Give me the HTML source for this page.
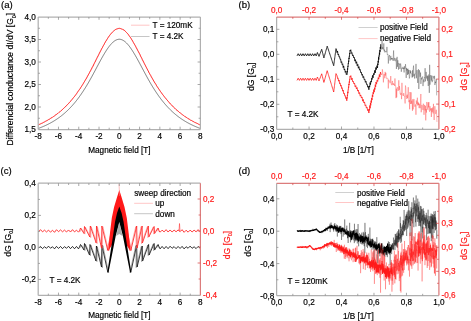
<!DOCTYPE html>
<html><head><meta charset="utf-8"><style>
html,body{margin:0;padding:0;background:#fff;width:471px;height:321px;overflow:hidden}
svg{display:block;filter:blur(0.3px)}
text{font-family:"Liberation Sans", sans-serif}
</style></head><body>
<svg width="471" height="321" viewBox="0 0 471 321">
<rect width="471" height="321" fill="#fff"/>
<text x="1.00" y="7.60" text-anchor="start" fill="#000" stroke="#000" stroke-width="0.18" font-size="9.6">(a)</text>
<path d="M38.20 128.49 L38.61 128.34 L39.01 128.19 L39.42 128.03 L39.83 127.88 L40.23 127.72 L40.64 127.56 L41.05 127.40 L41.45 127.24 L41.86 127.07 L42.27 126.90 L42.67 126.73 L43.08 126.56 L43.48 126.38 L43.89 126.21 L44.30 126.03 L44.70 125.85 L45.11 125.66 L45.52 125.47 L45.92 125.29 L46.33 125.09 L46.74 124.90 L47.14 124.70 L47.55 124.50 L47.96 124.30 L48.36 124.10 L48.77 123.89 L49.18 123.68 L49.58 123.46 L49.99 123.25 L50.40 123.03 L50.80 122.81 L51.21 122.58 L51.62 122.35 L52.02 122.12 L52.43 121.89 L52.83 121.65 L53.24 121.41 L53.65 121.17 L54.05 120.92 L54.46 120.67 L54.87 120.41 L55.27 120.16 L55.68 119.89 L56.09 119.63 L56.49 119.36 L56.90 119.09 L57.31 118.81 L57.71 118.53 L58.12 118.25 L58.53 117.96 L58.93 117.67 L59.34 117.38 L59.75 117.08 L60.15 116.77 L60.56 116.47 L60.96 116.16 L61.37 115.84 L61.78 115.52 L62.18 115.19 L62.59 114.86 L63.00 114.53 L63.40 114.19 L63.81 113.85 L64.22 113.50 L64.62 113.15 L65.03 112.79 L65.44 112.43 L65.84 112.07 L66.25 111.69 L66.66 111.32 L67.06 110.94 L67.47 110.55 L67.88 110.16 L68.28 109.76 L68.69 109.36 L69.10 108.95 L69.50 108.54 L69.91 108.12 L70.31 107.69 L70.72 107.26 L71.13 106.83 L71.53 106.39 L71.94 105.94 L72.35 105.49 L72.75 105.03 L73.16 104.56 L73.57 104.09 L73.97 103.62 L74.38 103.13 L74.79 102.65 L75.19 102.15 L75.60 101.65 L76.01 101.14 L76.41 100.63 L76.82 100.11 L77.23 99.59 L77.63 99.06 L78.04 98.52 L78.45 97.97 L78.85 97.42 L79.26 96.87 L79.66 96.30 L80.07 95.73 L80.48 95.16 L80.88 94.57 L81.29 93.99 L81.70 93.39 L82.10 92.79 L82.51 92.18 L82.92 91.57 L83.32 90.95 L83.73 90.32 L84.14 89.69 L84.54 89.05 L84.95 88.41 L85.36 87.76 L85.76 87.10 L86.17 86.44 L86.58 85.77 L86.98 85.10 L87.39 84.42 L87.79 83.74 L88.20 83.05 L88.61 82.35 L89.01 81.65 L89.42 80.93 L89.83 80.21 L90.23 79.49 L90.64 78.76 L91.05 78.03 L91.45 77.29 L91.86 76.55 L92.27 75.80 L92.67 75.05 L93.08 74.30 L93.49 73.55 L93.89 72.79 L94.30 72.04 L94.71 71.28 L95.11 70.52 L95.52 69.75 L95.93 68.99 L96.33 68.23 L96.74 67.46 L97.14 66.70 L97.55 65.93 L97.96 65.17 L98.36 64.41 L98.77 63.65 L99.18 62.90 L99.58 62.14 L99.99 61.39 L100.40 60.64 L100.80 59.90 L101.21 59.16 L101.62 58.43 L102.02 57.70 L102.43 56.98 L102.84 56.27 L103.24 55.56 L103.65 54.86 L104.06 54.17 L104.46 53.49 L104.87 52.81 L105.28 52.15 L105.68 51.50 L106.09 50.85 L106.49 50.22 L106.90 49.61 L107.31 49.00 L107.71 48.41 L108.12 47.83 L108.53 47.27 L108.93 46.72 L109.34 46.19 L109.75 45.67 L110.15 45.17 L110.56 44.69 L110.97 44.22 L111.37 43.78 L111.78 43.35 L112.19 42.94 L112.59 42.55 L113.00 42.18 L113.41 41.83 L113.81 41.50 L114.22 41.19 L114.63 40.90 L115.03 40.64 L115.44 40.40 L115.84 40.17 L116.25 39.98 L116.66 39.80 L117.06 39.65 L117.47 39.52 L117.88 39.41 L118.28 39.33 L118.69 39.27 L119.10 39.24 L119.50 39.24 L119.91 39.27 L120.32 39.33 L120.72 39.41 L121.13 39.52 L121.54 39.65 L121.94 39.80 L122.35 39.98 L122.76 40.17 L123.16 40.40 L123.57 40.64 L123.97 40.90 L124.38 41.19 L124.79 41.50 L125.19 41.83 L125.60 42.18 L126.01 42.55 L126.41 42.94 L126.82 43.35 L127.23 43.78 L127.63 44.22 L128.04 44.69 L128.45 45.17 L128.85 45.67 L129.26 46.19 L129.67 46.72 L130.07 47.27 L130.48 47.83 L130.89 48.41 L131.29 49.00 L131.70 49.61 L132.11 50.22 L132.51 50.85 L132.92 51.50 L133.32 52.15 L133.73 52.81 L134.14 53.49 L134.54 54.17 L134.95 54.86 L135.36 55.56 L135.76 56.27 L136.17 56.98 L136.58 57.70 L136.98 58.43 L137.39 59.16 L137.80 59.90 L138.20 60.64 L138.61 61.39 L139.02 62.14 L139.42 62.90 L139.83 63.65 L140.24 64.41 L140.64 65.17 L141.05 65.93 L141.46 66.70 L141.86 67.46 L142.27 68.23 L142.67 68.99 L143.08 69.75 L143.49 70.52 L143.89 71.28 L144.30 72.04 L144.71 72.79 L145.11 73.55 L145.52 74.30 L145.93 75.05 L146.33 75.80 L146.74 76.55 L147.15 77.29 L147.55 78.03 L147.96 78.76 L148.37 79.49 L148.77 80.21 L149.18 80.93 L149.59 81.65 L149.99 82.35 L150.40 83.05 L150.81 83.74 L151.21 84.42 L151.62 85.10 L152.02 85.77 L152.43 86.44 L152.84 87.10 L153.24 87.76 L153.65 88.41 L154.06 89.05 L154.46 89.69 L154.87 90.32 L155.28 90.95 L155.68 91.57 L156.09 92.18 L156.50 92.79 L156.90 93.39 L157.31 93.99 L157.72 94.57 L158.12 95.16 L158.53 95.73 L158.94 96.30 L159.34 96.87 L159.75 97.42 L160.15 97.97 L160.56 98.52 L160.97 99.06 L161.37 99.59 L161.78 100.11 L162.19 100.63 L162.59 101.14 L163.00 101.65 L163.41 102.15 L163.81 102.65 L164.22 103.13 L164.63 103.62 L165.03 104.09 L165.44 104.56 L165.85 105.03 L166.25 105.49 L166.66 105.94 L167.07 106.39 L167.47 106.83 L167.88 107.26 L168.29 107.69 L168.69 108.12 L169.10 108.54 L169.50 108.95 L169.91 109.36 L170.32 109.76 L170.72 110.16 L171.13 110.55 L171.54 110.94 L171.94 111.32 L172.35 111.69 L172.76 112.07 L173.16 112.43 L173.57 112.79 L173.98 113.15 L174.38 113.50 L174.79 113.85 L175.20 114.19 L175.60 114.53 L176.01 114.86 L176.42 115.19 L176.82 115.52 L177.23 115.84 L177.64 116.16 L178.04 116.47 L178.45 116.77 L178.85 117.08 L179.26 117.38 L179.67 117.67 L180.07 117.96 L180.48 118.25 L180.89 118.53 L181.29 118.81 L181.70 119.09 L182.11 119.36 L182.51 119.63 L182.92 119.89 L183.33 120.16 L183.73 120.41 L184.14 120.67 L184.55 120.92 L184.95 121.17 L185.36 121.41 L185.77 121.65 L186.17 121.89 L186.58 122.12 L186.98 122.35 L187.39 122.58 L187.80 122.81 L188.20 123.03 L188.61 123.25 L189.02 123.46 L189.42 123.68 L189.83 123.89 L190.24 124.10 L190.64 124.30 L191.05 124.50 L191.46 124.70 L191.86 124.90 L192.27 125.09 L192.68 125.29 L193.08 125.47 L193.49 125.66 L193.90 125.85 L194.30 126.03 L194.71 126.21 L195.12 126.38 L195.52 126.56 L195.93 126.73 L196.33 126.90 L196.74 127.07 L197.15 127.24 L197.55 127.40 L197.96 127.56 L198.37 127.72 L198.77 127.88 L199.18 128.03 L199.59 128.19 L199.99 128.34 L200.40 128.49" fill="none" stroke="#404040" stroke-width="0.7" stroke-opacity="1.0" stroke-linejoin="round"/>
<path d="M38.20 124.98 L38.61 124.83 L39.01 124.60 L39.42 124.37 L39.83 124.22 L40.23 123.99 L40.64 123.88 L41.05 123.79 L41.45 123.45 L41.86 123.25 L42.27 123.14 L42.67 122.92 L43.08 122.70 L43.48 122.41 L43.89 122.28 L44.30 122.12 L44.70 121.75 L45.11 121.60 L45.52 121.27 L45.92 121.10 L46.33 120.83 L46.74 120.73 L47.14 120.42 L47.55 120.31 L47.96 120.07 L48.36 119.80 L48.77 119.38 L49.18 119.29 L49.58 119.08 L49.99 118.85 L50.40 118.46 L50.80 118.29 L51.21 117.99 L51.62 117.75 L52.02 117.63 L52.43 117.21 L52.83 117.00 L53.24 116.80 L53.65 116.41 L54.05 116.16 L54.46 115.90 L54.87 115.60 L55.27 115.21 L55.68 115.02 L56.09 114.82 L56.49 114.28 L56.90 114.17 L57.31 113.80 L57.71 113.42 L58.12 113.32 L58.53 112.90 L58.93 112.41 L59.34 112.18 L59.75 111.89 L60.15 111.49 L60.56 111.21 L60.96 110.81 L61.37 110.51 L61.78 110.22 L62.18 109.69 L62.59 109.39 L63.00 108.97 L63.40 108.64 L63.81 108.16 L64.22 107.82 L64.62 107.46 L65.03 107.16 L65.44 106.78 L65.84 106.18 L66.25 105.81 L66.66 105.51 L67.06 104.88 L67.47 104.58 L67.88 104.18 L68.28 103.85 L68.69 103.37 L69.10 102.84 L69.50 102.39 L69.91 101.94 L70.31 101.62 L70.72 100.99 L71.13 100.53 L71.53 100.10 L71.94 99.58 L72.35 99.08 L72.75 98.51 L73.16 98.10 L73.57 97.56 L73.97 97.17 L74.38 96.61 L74.79 96.03 L75.19 95.55 L75.60 94.93 L76.01 94.49 L76.41 93.86 L76.82 93.35 L77.23 92.63 L77.63 92.19 L78.04 91.45 L78.45 90.84 L78.85 90.39 L79.26 89.74 L79.66 89.23 L80.07 88.78 L80.48 87.92 L80.88 87.32 L81.29 86.75 L81.70 86.14 L82.10 85.45 L82.51 84.80 L82.92 84.21 L83.32 83.54 L83.73 82.75 L84.14 82.15 L84.54 81.48 L84.95 80.71 L85.36 80.12 L85.76 79.33 L86.17 78.78 L86.58 78.00 L86.98 77.28 L87.39 76.51 L87.79 75.82 L88.20 74.94 L88.61 74.27 L89.01 73.64 L89.42 72.68 L89.83 72.16 L90.23 71.18 L90.64 70.61 L91.05 69.70 L91.45 69.05 L91.86 68.21 L92.27 67.29 L92.67 66.72 L93.08 65.94 L93.49 65.02 L93.89 64.20 L94.30 63.41 L94.71 62.54 L95.11 61.89 L95.52 60.95 L95.93 60.18 L96.33 59.31 L96.74 58.52 L97.14 57.65 L97.55 57.05 L97.96 56.12 L98.36 55.40 L98.77 54.52 L99.18 53.66 L99.58 52.89 L99.99 52.07 L100.40 51.32 L100.80 50.50 L101.21 49.72 L101.62 48.85 L102.02 48.12 L102.43 47.55 L102.84 46.60 L103.24 45.82 L103.65 45.18 L104.06 44.53 L104.46 43.57 L104.87 42.95 L105.28 42.21 L105.68 41.42 L106.09 40.94 L106.49 40.20 L106.90 39.55 L107.31 38.83 L107.71 38.30 L108.12 37.60 L108.53 37.03 L108.93 36.36 L109.34 35.78 L109.75 35.43 L110.15 34.75 L110.56 34.29 L110.97 33.77 L111.37 33.25 L111.78 32.79 L112.19 32.44 L112.59 31.94 L113.00 31.56 L113.41 31.20 L113.81 30.93 L114.22 30.56 L114.63 30.23 L115.03 29.87 L115.44 29.54 L115.84 29.49 L116.25 29.28 L116.66 29.00 L117.06 28.89 L117.47 28.77 L117.88 28.66 L118.28 28.58 L118.69 28.41 L119.10 28.53 L119.50 28.31 L119.91 28.52 L120.32 28.55 L120.72 28.67 L121.13 28.86 L121.54 28.97 L121.94 28.92 L122.35 29.07 L122.76 29.48 L123.16 29.57 L123.57 29.91 L123.97 30.27 L124.38 30.38 L124.79 30.67 L125.19 31.21 L125.60 31.57 L126.01 31.95 L126.41 32.39 L126.82 32.76 L127.23 33.17 L127.63 33.76 L128.04 34.19 L128.45 34.66 L128.85 35.36 L129.26 35.87 L129.67 36.48 L130.07 36.96 L130.48 37.59 L130.89 38.18 L131.29 38.82 L131.70 39.56 L132.11 40.14 L132.51 40.91 L132.92 41.59 L133.32 42.42 L133.73 42.86 L134.14 43.76 L134.54 44.41 L134.95 45.16 L135.36 45.79 L135.76 46.62 L136.17 47.48 L136.58 48.18 L136.98 48.97 L137.39 49.72 L137.80 50.62 L138.20 51.32 L138.61 51.94 L139.02 52.86 L139.42 53.56 L139.83 54.26 L140.24 55.28 L140.64 56.24 L141.05 56.95 L141.46 57.66 L141.86 58.49 L142.27 59.47 L142.67 60.20 L143.08 61.00 L143.49 61.80 L143.89 62.62 L144.30 63.48 L144.71 64.27 L145.11 65.04 L145.52 65.74 L145.93 66.66 L146.33 67.36 L146.74 68.29 L147.15 68.89 L147.55 69.76 L147.96 70.55 L148.37 71.21 L148.77 72.23 L149.18 72.97 L149.59 73.57 L149.99 74.42 L150.40 75.13 L150.81 75.62 L151.21 76.57 L151.62 77.27 L152.02 78.00 L152.43 78.61 L152.84 79.38 L153.24 80.09 L153.65 80.89 L154.06 81.50 L154.46 82.16 L154.87 82.95 L155.28 83.45 L155.68 84.13 L156.09 84.67 L156.50 85.59 L156.90 86.18 L157.31 86.81 L157.72 87.42 L158.12 88.00 L158.53 88.62 L158.94 89.19 L159.34 89.80 L159.75 90.42 L160.15 91.12 L160.56 91.63 L160.97 92.16 L161.37 92.69 L161.78 93.25 L162.19 93.99 L162.59 94.45 L163.00 94.96 L163.41 95.47 L163.81 95.94 L164.22 96.55 L164.63 97.15 L165.03 97.56 L165.44 98.08 L165.85 98.58 L166.25 99.11 L166.66 99.46 L167.07 100.06 L167.47 100.49 L167.88 101.10 L168.29 101.43 L168.69 102.00 L169.10 102.54 L169.50 102.84 L169.91 103.26 L170.32 103.77 L170.72 104.19 L171.13 104.54 L171.54 105.08 L171.94 105.62 L172.35 105.85 L172.76 106.27 L173.16 106.60 L173.57 107.11 L173.98 107.38 L174.38 107.78 L174.79 108.35 L175.20 108.56 L175.60 109.09 L176.01 109.50 L176.42 109.76 L176.82 110.15 L177.23 110.62 L177.64 110.80 L178.04 111.11 L178.45 111.39 L178.85 111.85 L179.26 112.30 L179.67 112.58 L180.07 112.76 L180.48 113.09 L180.89 113.44 L181.29 113.81 L181.70 114.08 L182.11 114.43 L182.51 114.74 L182.92 114.99 L183.33 115.30 L183.73 115.62 L184.14 115.88 L184.55 116.21 L184.95 116.60 L185.36 116.78 L185.77 117.01 L186.17 117.14 L186.58 117.58 L186.98 117.66 L187.39 117.96 L187.80 118.40 L188.20 118.64 L188.61 118.83 L189.02 118.95 L189.42 119.30 L189.83 119.52 L190.24 119.87 L190.64 120.24 L191.05 120.31 L191.46 120.46 L191.86 120.66 L192.27 120.97 L192.68 121.19 L193.08 121.33 L193.49 121.65 L193.90 121.76 L194.30 122.16 L194.71 122.36 L195.12 122.57 L195.52 122.65 L195.93 122.94 L196.33 123.09 L196.74 123.26 L197.15 123.46 L197.55 123.58 L197.96 123.76 L198.37 124.13 L198.77 124.24 L199.18 124.46 L199.59 124.70 L199.99 124.66 L200.40 124.92" fill="none" stroke="#ff0000" stroke-width="0.95" stroke-opacity="1.0" stroke-linejoin="round"/>
<line x1="38.20" y1="129.50" x2="200.40" y2="129.50" stroke="#b0b0b0" stroke-width="1.25" stroke-opacity="1.0"/>
<line x1="38.20" y1="17.00" x2="38.20" y2="129.50" stroke="#b0b0b0" stroke-width="1.25" stroke-opacity="1.0"/>
<line x1="38.20" y1="17.00" x2="200.40" y2="17.00" stroke="#b0b0b0" stroke-width="1.25" stroke-opacity="1.0"/>
<line x1="200.40" y1="17.00" x2="200.40" y2="129.50" stroke="#b0b0b0" stroke-width="1.25" stroke-opacity="1.0"/>
<line x1="48.34" y1="129.50" x2="48.34" y2="127.70" stroke="#8c8c8c" stroke-width="0.75" stroke-opacity="1.0"/>
<line x1="58.48" y1="129.50" x2="58.48" y2="126.70" stroke="#8c8c8c" stroke-width="0.75" stroke-opacity="1.0"/>
<line x1="68.61" y1="129.50" x2="68.61" y2="127.70" stroke="#8c8c8c" stroke-width="0.75" stroke-opacity="1.0"/>
<line x1="78.75" y1="129.50" x2="78.75" y2="126.70" stroke="#8c8c8c" stroke-width="0.75" stroke-opacity="1.0"/>
<line x1="88.89" y1="129.50" x2="88.89" y2="127.70" stroke="#8c8c8c" stroke-width="0.75" stroke-opacity="1.0"/>
<line x1="99.03" y1="129.50" x2="99.03" y2="126.70" stroke="#8c8c8c" stroke-width="0.75" stroke-opacity="1.0"/>
<line x1="109.16" y1="129.50" x2="109.16" y2="127.70" stroke="#8c8c8c" stroke-width="0.75" stroke-opacity="1.0"/>
<line x1="119.30" y1="129.50" x2="119.30" y2="126.70" stroke="#8c8c8c" stroke-width="0.75" stroke-opacity="1.0"/>
<line x1="129.44" y1="129.50" x2="129.44" y2="127.70" stroke="#8c8c8c" stroke-width="0.75" stroke-opacity="1.0"/>
<line x1="139.57" y1="129.50" x2="139.57" y2="126.70" stroke="#8c8c8c" stroke-width="0.75" stroke-opacity="1.0"/>
<line x1="149.71" y1="129.50" x2="149.71" y2="127.70" stroke="#8c8c8c" stroke-width="0.75" stroke-opacity="1.0"/>
<line x1="159.85" y1="129.50" x2="159.85" y2="126.70" stroke="#8c8c8c" stroke-width="0.75" stroke-opacity="1.0"/>
<line x1="169.99" y1="129.50" x2="169.99" y2="127.70" stroke="#8c8c8c" stroke-width="0.75" stroke-opacity="1.0"/>
<line x1="180.12" y1="129.50" x2="180.12" y2="126.70" stroke="#8c8c8c" stroke-width="0.75" stroke-opacity="1.0"/>
<line x1="190.26" y1="129.50" x2="190.26" y2="127.70" stroke="#8c8c8c" stroke-width="0.75" stroke-opacity="1.0"/>
<line x1="48.34" y1="17.00" x2="48.34" y2="18.80" stroke="#8c8c8c" stroke-width="0.75" stroke-opacity="1.0"/>
<line x1="58.48" y1="17.00" x2="58.48" y2="19.80" stroke="#8c8c8c" stroke-width="0.75" stroke-opacity="1.0"/>
<line x1="68.61" y1="17.00" x2="68.61" y2="18.80" stroke="#8c8c8c" stroke-width="0.75" stroke-opacity="1.0"/>
<line x1="78.75" y1="17.00" x2="78.75" y2="19.80" stroke="#8c8c8c" stroke-width="0.75" stroke-opacity="1.0"/>
<line x1="88.89" y1="17.00" x2="88.89" y2="18.80" stroke="#8c8c8c" stroke-width="0.75" stroke-opacity="1.0"/>
<line x1="99.03" y1="17.00" x2="99.03" y2="19.80" stroke="#8c8c8c" stroke-width="0.75" stroke-opacity="1.0"/>
<line x1="109.16" y1="17.00" x2="109.16" y2="18.80" stroke="#8c8c8c" stroke-width="0.75" stroke-opacity="1.0"/>
<line x1="119.30" y1="17.00" x2="119.30" y2="19.80" stroke="#8c8c8c" stroke-width="0.75" stroke-opacity="1.0"/>
<line x1="129.44" y1="17.00" x2="129.44" y2="18.80" stroke="#8c8c8c" stroke-width="0.75" stroke-opacity="1.0"/>
<line x1="139.57" y1="17.00" x2="139.57" y2="19.80" stroke="#8c8c8c" stroke-width="0.75" stroke-opacity="1.0"/>
<line x1="149.71" y1="17.00" x2="149.71" y2="18.80" stroke="#8c8c8c" stroke-width="0.75" stroke-opacity="1.0"/>
<line x1="159.85" y1="17.00" x2="159.85" y2="19.80" stroke="#8c8c8c" stroke-width="0.75" stroke-opacity="1.0"/>
<line x1="169.99" y1="17.00" x2="169.99" y2="18.80" stroke="#8c8c8c" stroke-width="0.75" stroke-opacity="1.0"/>
<line x1="180.12" y1="17.00" x2="180.12" y2="19.80" stroke="#8c8c8c" stroke-width="0.75" stroke-opacity="1.0"/>
<line x1="190.26" y1="17.00" x2="190.26" y2="18.80" stroke="#8c8c8c" stroke-width="0.75" stroke-opacity="1.0"/>
<line x1="38.20" y1="107.00" x2="41.00" y2="107.00" stroke="#8c8c8c" stroke-width="0.75" stroke-opacity="1.0"/>
<line x1="38.20" y1="84.50" x2="41.00" y2="84.50" stroke="#8c8c8c" stroke-width="0.75" stroke-opacity="1.0"/>
<line x1="38.20" y1="62.00" x2="41.00" y2="62.00" stroke="#8c8c8c" stroke-width="0.75" stroke-opacity="1.0"/>
<line x1="38.20" y1="39.50" x2="41.00" y2="39.50" stroke="#8c8c8c" stroke-width="0.75" stroke-opacity="1.0"/>
<line x1="38.20" y1="118.25" x2="40.00" y2="118.25" stroke="#8c8c8c" stroke-width="0.75" stroke-opacity="1.0"/>
<line x1="38.20" y1="95.75" x2="40.00" y2="95.75" stroke="#8c8c8c" stroke-width="0.75" stroke-opacity="1.0"/>
<line x1="38.20" y1="73.25" x2="40.00" y2="73.25" stroke="#8c8c8c" stroke-width="0.75" stroke-opacity="1.0"/>
<line x1="38.20" y1="50.75" x2="40.00" y2="50.75" stroke="#8c8c8c" stroke-width="0.75" stroke-opacity="1.0"/>
<line x1="38.20" y1="28.25" x2="40.00" y2="28.25" stroke="#8c8c8c" stroke-width="0.75" stroke-opacity="1.0"/>
<line x1="200.40" y1="107.00" x2="197.60" y2="107.00" stroke="#8c8c8c" stroke-width="0.75" stroke-opacity="1.0"/>
<line x1="200.40" y1="84.50" x2="197.60" y2="84.50" stroke="#8c8c8c" stroke-width="0.75" stroke-opacity="1.0"/>
<line x1="200.40" y1="62.00" x2="197.60" y2="62.00" stroke="#8c8c8c" stroke-width="0.75" stroke-opacity="1.0"/>
<line x1="200.40" y1="39.50" x2="197.60" y2="39.50" stroke="#8c8c8c" stroke-width="0.75" stroke-opacity="1.0"/>
<line x1="200.40" y1="118.25" x2="198.60" y2="118.25" stroke="#8c8c8c" stroke-width="0.75" stroke-opacity="1.0"/>
<line x1="200.40" y1="95.75" x2="198.60" y2="95.75" stroke="#8c8c8c" stroke-width="0.75" stroke-opacity="1.0"/>
<line x1="200.40" y1="73.25" x2="198.60" y2="73.25" stroke="#8c8c8c" stroke-width="0.75" stroke-opacity="1.0"/>
<line x1="200.40" y1="50.75" x2="198.60" y2="50.75" stroke="#8c8c8c" stroke-width="0.75" stroke-opacity="1.0"/>
<line x1="200.40" y1="28.25" x2="198.60" y2="28.25" stroke="#8c8c8c" stroke-width="0.75" stroke-opacity="1.0"/>
<text x="38.20" y="139.00" text-anchor="middle" fill="#000" stroke="#000" stroke-width="0.18" font-size="8.2">-8</text>
<text x="58.48" y="139.00" text-anchor="middle" fill="#000" stroke="#000" stroke-width="0.18" font-size="8.2">-6</text>
<text x="78.75" y="139.00" text-anchor="middle" fill="#000" stroke="#000" stroke-width="0.18" font-size="8.2">-4</text>
<text x="99.03" y="139.00" text-anchor="middle" fill="#000" stroke="#000" stroke-width="0.18" font-size="8.2">-2</text>
<text x="119.30" y="139.00" text-anchor="middle" fill="#000" stroke="#000" stroke-width="0.18" font-size="8.2">0</text>
<text x="139.57" y="139.00" text-anchor="middle" fill="#000" stroke="#000" stroke-width="0.18" font-size="8.2">2</text>
<text x="159.85" y="139.00" text-anchor="middle" fill="#000" stroke="#000" stroke-width="0.18" font-size="8.2">4</text>
<text x="180.12" y="139.00" text-anchor="middle" fill="#000" stroke="#000" stroke-width="0.18" font-size="8.2">6</text>
<text x="200.40" y="139.00" text-anchor="middle" fill="#000" stroke="#000" stroke-width="0.18" font-size="8.2">8</text>
<text x="35.80" y="132.40" text-anchor="end" fill="#000" stroke="#000" stroke-width="0.18" font-size="8.2">1,5</text>
<text x="35.80" y="109.90" text-anchor="end" fill="#000" stroke="#000" stroke-width="0.18" font-size="8.2">2,0</text>
<text x="35.80" y="87.40" text-anchor="end" fill="#000" stroke="#000" stroke-width="0.18" font-size="8.2">2,5</text>
<text x="35.80" y="64.90" text-anchor="end" fill="#000" stroke="#000" stroke-width="0.18" font-size="8.2">3,0</text>
<text x="35.80" y="42.40" text-anchor="end" fill="#000" stroke="#000" stroke-width="0.18" font-size="8.2">3,5</text>
<text x="35.80" y="19.90" text-anchor="end" fill="#000" stroke="#000" stroke-width="0.18" font-size="8.2">4,0</text>
<text x="119.40" y="153.20" text-anchor="middle" fill="#000" stroke="#000" stroke-width="0.18" font-size="8.2">Magnetic field [T]</text>
<text x="13.40" y="79.10" text-anchor="middle" fill="#000" stroke="#000" stroke-width="0.18" font-size="8.55" transform="rotate(-90 13.4 79.1)">Differencial conductance dI/dV [G<tspan font-size="5.5" dy="2.3">0</tspan><tspan dy="-2.3">]</tspan></text>
<line x1="131.00" y1="25.20" x2="149.50" y2="25.20" stroke="#ffa0a0" stroke-width="0.6" stroke-opacity="1.0"/>
<text x="152.50" y="28.00" text-anchor="start" fill="#000" stroke="#000" stroke-width="0.18" font-size="8.2">T = 120mK</text>
<line x1="131.00" y1="36.50" x2="149.50" y2="36.50" stroke="#a0a0a0" stroke-width="0.6" stroke-opacity="1.0"/>
<text x="152.50" y="39.30" text-anchor="start" fill="#000" stroke="#000" stroke-width="0.18" font-size="8.2">T = 4.2K</text>
<text x="238.50" y="7.60" text-anchor="start" fill="#000" stroke="#000" stroke-width="0.18" font-size="9.6">(b)</text>
<path d="M297.00 55.90 L298.20 53.70 L299.40 55.90 L300.60 53.70 L301.80 55.90 L303.00 53.70 L304.20 55.90 L305.40 53.70 L306.60 55.90 L307.80 53.70 L309.00 55.90 L310.20 53.70 L311.40 55.90 L312.60 53.70 L313.80 55.90 L315.00 53.70 L316.20 55.90 L316.80 54.20 L317.40 52.50 L317.93 53.80 L318.47 55.10 L319.00 56.40 L319.54 54.98 L320.08 53.56 L320.62 52.14 L321.16 50.72 L321.70 49.30 L322.07 50.73 L322.43 52.17 L322.80 53.60 L323.17 55.03 L323.53 56.47 L323.90 57.90 L324.27 56.60 L324.63 55.30 L325.00 54.00 L325.37 52.70 L325.73 51.40 L326.10 50.10 L326.47 48.80 L326.83 47.50 L327.20 46.20 L327.63 47.50 L328.07 48.80 L328.50 50.10 L328.93 51.40 L329.37 52.70 L329.80 54.00 L330.23 55.30 L330.67 56.60 L331.10 57.90 L331.53 59.20 L331.97 60.50 L332.40 61.80 L332.83 63.10 L333.27 64.40 L333.70 65.70 L333.88 64.38 L334.05 63.07 L334.23 61.75 L334.41 60.44 L334.58 59.12 L334.76 57.81 L334.94 56.49 L335.12 55.18 L335.29 53.86 L335.47 52.55 L335.65 51.23 L335.82 49.92 L336.00 48.60 L336.51 49.86 L337.03 52.65 L337.54 51.01 L338.06 55.00 L338.57 54.19 L339.09 57.13 L339.60 56.67 L340.11 59.48 L340.63 59.07 L341.14 62.60 L341.66 61.66 L342.17 64.61 L342.69 63.84 L343.20 67.62 L343.71 65.93 L344.23 70.01 L344.74 69.13 L345.26 72.37 L345.77 71.19 L346.29 74.44 L346.80 73.73 L346.98 74.67 L347.16 71.18 L347.34 72.31 L347.52 68.48 L347.69 69.55 L347.87 65.95 L348.05 66.62 L348.23 63.37 L348.41 63.92 L348.59 60.75 L348.77 61.66 L348.95 57.86 L349.13 58.90 L349.31 55.91 L349.48 56.39 L349.66 53.11 L349.84 53.96 L350.02 50.31 L350.20 51.00 L350.78 49.73 L351.37 53.41 L351.95 52.64 L352.54 55.78 L353.12 54.93 L353.71 57.95 L354.29 57.27 L354.88 61.11 L355.46 59.67 L356.04 63.36 L356.63 61.72 L357.21 65.85 L357.80 64.31 L358.38 68.23 L358.97 66.65 L359.55 70.13 L360.13 69.36 L360.72 72.62 L361.30 71.97 L361.89 75.23 L362.47 74.33 L363.06 77.68 L363.64 76.49 L364.22 79.62 L364.81 79.03 L365.39 82.29 L365.98 81.19 L366.56 84.42 L367.15 84.09 L367.73 87.21 L368.32 86.28 L368.90 89.76 L369.30 85.90 L369.70 87.09 L370.10 82.59 L370.50 84.60 L370.90 81.03 L371.30 82.09 L371.70 78.23 L372.10 79.46 L372.50 75.42 L373.06 77.86 L373.61 73.50 L374.17 74.76 L374.72 70.37 L375.28 72.90 L375.83 67.51 L376.39 69.53 L376.94 65.65 L377.50 68.01 L377.71 63.70 L377.93 64.97 L378.14 60.88 L378.35 62.53 L378.57 57.25 L378.78 59.58 L378.99 55.76 L379.21 56.31 L379.42 52.58 L379.63 54.63 L379.85 50.14 L380.06 51.74 L380.27 47.26 L380.49 48.57 L380.70 44.21" fill="none" stroke="#000" stroke-width="0.8" stroke-opacity="1.0" stroke-linejoin="round"/>
<path d="M380.70 44.21 L381.00 45.74 L381.35 46.97 L381.70 49.54 L382.05 39.56 L382.40 48.89 L382.75 47.27 L383.10 49.51 L383.45 49.40 L383.80 43.41 L384.15 51.18 L384.50 49.65 L384.85 52.37 L385.20 50.91 L385.55 51.41 L385.90 52.09 L386.25 51.90 L386.60 52.09 L386.95 46.91 L387.30 54.72 L387.65 54.31 L388.00 54.24 L388.35 63.52 L388.70 56.58 L389.05 56.54 L389.40 54.99 L389.75 58.51 L390.10 60.63 L390.45 58.14 L390.80 55.86 L391.15 59.75 L391.50 57.98 L391.85 59.09 L392.20 58.02 L392.55 58.83 L392.90 60.63 L393.25 57.05 L393.60 50.49 L393.95 60.74 L394.30 57.86 L394.65 58.31 L395.00 60.89 L395.35 61.12 L395.70 60.54 L396.05 58.29 L396.40 68.94 L396.75 61.53 L397.10 56.83 L397.45 66.82 L397.80 60.25 L398.15 64.36 L398.50 69.61 L398.85 62.99 L399.20 64.64 L399.55 64.18 L399.90 68.93 L400.25 65.92 L400.60 63.51 L400.95 65.92 L401.30 71.77 L401.65 68.30 L402.00 67.78 L402.35 68.33 L402.70 68.78 L403.05 66.84 L403.40 69.14 L403.75 68.08 L404.10 72.46 L404.45 66.29 L404.80 68.87 L405.15 68.14 L405.50 64.18 L405.85 68.92 L406.20 77.93 L406.55 67.95 L406.90 70.47 L407.25 69.04 L407.60 74.97 L407.95 68.70 L408.30 74.08 L408.65 70.06 L409.00 72.96 L409.35 78.46 L409.70 76.80 L410.05 70.00 L410.40 73.21 L410.75 71.18 L411.10 73.79 L411.45 73.77 L411.80 74.23 L412.15 77.60 L412.50 70.29 L412.85 76.98 L413.20 68.81 L413.55 65.61 L413.90 75.97 L414.25 73.80 L414.60 78.51 L414.95 75.36 L415.30 74.38 L415.65 72.79 L416.00 63.92 L416.35 78.25 L416.70 74.85 L417.05 70.12 L417.40 77.68 L417.75 82.94 L418.10 74.92 L418.45 69.26 L418.80 88.98 L419.15 79.52 L419.50 70.25 L419.85 74.67 L420.20 76.83 L420.55 72.59 L420.90 83.89 L421.25 77.65 L421.60 79.38 L421.95 79.18 L422.30 77.07 L422.65 76.51 L423.00 86.11 L423.35 80.60 L423.70 79.44 L424.05 82.21 L424.40 77.44 L424.75 78.16 L425.10 68.20 L425.45 81.36 L425.80 78.30 L426.15 71.90 L426.50 77.38 L426.85 78.52 L427.20 75.51 L427.55 80.75 L427.90 76.10 L428.25 85.98 L428.60 74.57 L428.95 75.84 L429.30 92.84 L429.65 64.80 L430.00 84.69 L430.35 75.82 L430.70 75.20 L431.05 77.10 L431.40 80.65 L431.75 75.53 L432.10 82.20 L432.45 80.63 L432.80 80.91 L433.15 75.96 L433.50 77.41 L433.85 77.52 L434.20 78.66 L434.55 75.85 L434.90 85.05 L435.25 81.66 L435.60 83.09 L435.95 81.99 L436.30 79.12 L436.65 95.39" fill="none" stroke="#333" stroke-width="0.35" stroke-opacity="1.0" stroke-linejoin="round"/>
<path d="M297.00 80.40 L298.20 78.20 L299.40 80.40 L300.60 78.20 L301.80 80.40 L303.00 78.20 L304.20 80.40 L305.40 78.20 L306.60 80.40 L307.80 78.20 L309.00 80.40 L310.20 78.20 L311.40 80.40 L312.60 78.20 L313.80 80.40 L315.00 78.20 L316.20 80.40 L316.80 78.70 L317.40 77.00 L317.93 78.30 L318.47 79.60 L319.00 80.90 L319.54 79.48 L320.08 78.06 L320.62 76.64 L321.16 75.22 L321.70 73.80 L322.07 75.23 L322.43 76.67 L322.80 78.10 L323.17 79.53 L323.53 80.97 L323.90 82.40 L324.27 81.10 L324.63 79.80 L325.00 78.50 L325.37 77.20 L325.73 75.90 L326.10 74.60 L326.47 73.30 L326.83 72.00 L327.20 70.70 L327.58 71.95 L327.96 73.21 L328.35 74.46 L328.73 75.71 L329.11 76.96 L329.49 78.22 L329.88 79.47 L330.26 80.72 L330.64 81.98 L331.02 83.23 L331.41 84.48 L331.79 85.74 L332.17 86.99 L332.55 88.24 L332.94 89.49 L333.32 90.75 L333.70 92.00 L333.86 90.69 L334.03 89.37 L334.19 88.06 L334.36 86.74 L334.52 85.43 L334.69 84.11 L334.85 82.80 L335.01 81.49 L335.18 80.17 L335.34 78.86 L335.51 77.54 L335.67 76.23 L335.84 74.91 L336.00 73.60 L336.51 74.86 L337.03 75.25 L337.54 78.48 L338.06 77.91 L338.57 81.17 L339.09 80.01 L339.60 83.69 L340.11 82.93 L340.63 86.15 L341.14 85.18 L341.66 88.53 L342.17 87.73 L342.69 91.17 L343.20 90.03 L343.71 93.67 L344.23 93.01 L344.74 95.83 L345.26 95.51 L345.77 98.48 L346.29 97.66 L346.80 100.75 L346.99 97.40 L347.18 98.42 L347.37 94.88 L347.56 95.84 L347.74 91.80 L347.93 93.15 L348.12 89.89 L348.31 90.07 L348.50 86.67 L348.69 87.55 L348.88 83.93 L349.07 85.05 L349.26 81.60 L349.44 82.58 L349.63 79.10 L349.82 79.49 L350.01 76.32 L350.20 76.93 L350.82 75.61 L351.45 79.66 L352.07 78.06 L352.69 81.87 L353.32 81.18 L353.94 83.93 L354.56 83.10 L355.19 86.86 L355.81 85.60 L356.43 88.92 L357.06 87.53 L357.68 91.10 L358.30 90.00 L358.93 93.70 L359.55 92.57 L360.17 96.11 L360.80 94.98 L361.42 98.01 L362.04 96.98 L362.67 101.17 L363.29 99.41 L363.91 102.98 L364.54 101.97 L365.16 105.73 L365.78 104.86 L366.41 108.12 L367.03 107.21 L367.65 110.63 L368.28 109.44 L368.90 113.03 L369.21 108.96 L369.52 110.37 L369.83 105.50 L370.14 108.24 L370.45 102.96 L370.76 105.35 L371.07 100.66 L371.38 102.55 L371.69 97.97 L372.00 100.07 L372.36 94.85 L372.73 96.83 L373.09 92.29 L373.45 93.89 L373.82 89.57 L374.18 92.14 L374.55 87.78 L374.91 89.53 L375.27 84.66 L375.64 86.96 L376.00 81.98 L376.56 84.15 L377.11 80.14 L377.67 81.53 L378.22 77.63 L378.78 79.11 L379.33 74.48 L379.89 77.06 L380.44 72.08 L381.00 74.39" fill="none" stroke="#ff1a1a" stroke-width="0.8" stroke-opacity="1.0" stroke-linejoin="round"/>
<path d="M381.00 74.39 L382.00 74.66 L382.35 69.34 L382.70 71.76 L383.05 75.79 L383.40 82.39 L383.75 75.23 L384.10 73.95 L384.45 74.76 L384.80 78.22 L385.15 71.86 L385.50 75.52 L385.85 72.82 L386.20 76.19 L386.55 78.69 L386.90 78.76 L387.25 78.53 L387.60 78.27 L387.95 78.38 L388.30 88.44 L388.65 79.68 L389.00 81.38 L389.35 80.80 L389.70 81.61 L390.05 83.22 L390.40 81.76 L390.75 76.07 L391.10 82.09 L391.45 85.05 L391.80 84.71 L392.15 81.76 L392.50 80.94 L392.85 85.13 L393.20 83.13 L393.55 84.72 L393.90 84.14 L394.25 84.25 L394.60 85.81 L394.95 78.43 L395.30 86.00 L395.65 85.80 L396.00 98.10 L396.35 88.66 L396.70 97.35 L397.05 87.22 L397.40 87.45 L397.75 89.02 L398.10 90.96 L398.45 89.81 L398.80 80.25 L399.15 89.96 L399.50 86.17 L399.85 90.11 L400.20 93.68 L400.55 94.76 L400.90 92.88 L401.25 93.31 L401.60 99.17 L401.95 82.83 L402.30 94.65 L402.65 94.94 L403.00 94.79 L403.35 95.88 L403.70 93.12 L404.05 95.57 L404.40 96.28 L404.75 96.20 L405.10 103.48 L405.45 85.52 L405.80 87.44 L406.15 96.33 L406.50 95.83 L406.85 98.98 L407.20 94.67 L407.55 98.06 L407.90 93.57 L408.25 87.19 L408.60 97.91 L408.95 102.13 L409.30 100.18 L409.65 109.31 L410.00 92.03 L410.35 102.35 L410.70 104.00 L411.05 92.30 L411.40 103.72 L411.75 100.69 L412.10 103.68 L412.45 110.79 L412.80 99.18 L413.15 109.39 L413.50 100.69 L413.85 99.14 L414.20 99.41 L414.55 106.10 L414.90 106.79 L415.25 105.62 L415.60 104.48 L415.95 114.75 L416.30 100.49 L416.65 104.07 L417.00 103.66 L417.35 97.70 L417.70 105.47 L418.05 101.87 L418.40 105.09 L418.75 103.02 L419.10 108.11 L419.45 104.50 L419.80 103.98 L420.15 108.23 L420.50 102.80 L420.85 93.99 L421.20 112.27 L421.55 107.10 L421.90 104.93 L422.25 105.74 L422.60 107.58 L422.95 110.06 L423.30 103.68 L423.65 105.68 L424.00 114.79 L424.35 105.11 L424.70 104.96 L425.05 110.45 L425.40 105.89 L425.75 120.40 L426.10 109.02 L426.45 112.59 L426.80 101.97 L427.15 105.29 L427.50 107.50 L427.85 109.78 L428.20 102.38 L428.55 107.41 L428.90 102.05 L429.25 110.44 L429.60 111.74 L429.95 106.14 L430.30 108.60 L430.65 110.52 L431.00 108.25 L431.35 116.96 L431.70 108.36 L432.05 112.10 L432.40 110.60 L432.75 107.48 L433.10 113.45 L433.45 103.84 L433.80 114.23 L434.15 120.03 L434.50 112.96 L434.85 106.16 L435.20 110.51 L435.55 113.40 L435.90 114.11 L436.25 109.78 L436.60 113.55 L436.95 122.03" fill="none" stroke="#ff3030" stroke-width="0.35" stroke-opacity="1.0" stroke-linejoin="round"/>
<line x1="276.60" y1="129.30" x2="438.90" y2="129.30" stroke="#b0b0b0" stroke-width="1.25" stroke-opacity="1.0"/>
<line x1="276.60" y1="17.00" x2="276.60" y2="129.30" stroke="#b0b0b0" stroke-width="1.25" stroke-opacity="1.0"/>
<line x1="276.60" y1="17.00" x2="438.90" y2="17.00" stroke="#dc7c7c" stroke-width="1.25" stroke-opacity="1.0"/>
<line x1="438.90" y1="17.00" x2="438.90" y2="129.30" stroke="#dc7c7c" stroke-width="1.25" stroke-opacity="1.0"/>
<line x1="292.83" y1="129.30" x2="292.83" y2="127.50" stroke="#8c8c8c" stroke-width="0.75" stroke-opacity="1.0"/>
<line x1="309.06" y1="129.30" x2="309.06" y2="126.50" stroke="#8c8c8c" stroke-width="0.75" stroke-opacity="1.0"/>
<line x1="325.29" y1="129.30" x2="325.29" y2="127.50" stroke="#8c8c8c" stroke-width="0.75" stroke-opacity="1.0"/>
<line x1="341.52" y1="129.30" x2="341.52" y2="126.50" stroke="#8c8c8c" stroke-width="0.75" stroke-opacity="1.0"/>
<line x1="357.75" y1="129.30" x2="357.75" y2="127.50" stroke="#8c8c8c" stroke-width="0.75" stroke-opacity="1.0"/>
<line x1="373.98" y1="129.30" x2="373.98" y2="126.50" stroke="#8c8c8c" stroke-width="0.75" stroke-opacity="1.0"/>
<line x1="390.21" y1="129.30" x2="390.21" y2="127.50" stroke="#8c8c8c" stroke-width="0.75" stroke-opacity="1.0"/>
<line x1="406.44" y1="129.30" x2="406.44" y2="126.50" stroke="#8c8c8c" stroke-width="0.75" stroke-opacity="1.0"/>
<line x1="422.67" y1="129.30" x2="422.67" y2="127.50" stroke="#8c8c8c" stroke-width="0.75" stroke-opacity="1.0"/>
<line x1="292.83" y1="17.00" x2="292.83" y2="18.80" stroke="#d84848" stroke-width="0.75" stroke-opacity="1.0"/>
<line x1="309.06" y1="17.00" x2="309.06" y2="19.80" stroke="#d84848" stroke-width="0.75" stroke-opacity="1.0"/>
<line x1="325.29" y1="17.00" x2="325.29" y2="18.80" stroke="#d84848" stroke-width="0.75" stroke-opacity="1.0"/>
<line x1="341.52" y1="17.00" x2="341.52" y2="19.80" stroke="#d84848" stroke-width="0.75" stroke-opacity="1.0"/>
<line x1="357.75" y1="17.00" x2="357.75" y2="18.80" stroke="#d84848" stroke-width="0.75" stroke-opacity="1.0"/>
<line x1="373.98" y1="17.00" x2="373.98" y2="19.80" stroke="#d84848" stroke-width="0.75" stroke-opacity="1.0"/>
<line x1="390.21" y1="17.00" x2="390.21" y2="18.80" stroke="#d84848" stroke-width="0.75" stroke-opacity="1.0"/>
<line x1="406.44" y1="17.00" x2="406.44" y2="19.80" stroke="#d84848" stroke-width="0.75" stroke-opacity="1.0"/>
<line x1="422.67" y1="17.00" x2="422.67" y2="18.80" stroke="#d84848" stroke-width="0.75" stroke-opacity="1.0"/>
<line x1="276.60" y1="29.30" x2="279.40" y2="29.30" stroke="#8c8c8c" stroke-width="0.75" stroke-opacity="1.0"/>
<line x1="276.60" y1="54.30" x2="279.40" y2="54.30" stroke="#8c8c8c" stroke-width="0.75" stroke-opacity="1.0"/>
<line x1="276.60" y1="79.30" x2="279.40" y2="79.30" stroke="#8c8c8c" stroke-width="0.75" stroke-opacity="1.0"/>
<line x1="276.60" y1="104.30" x2="279.40" y2="104.30" stroke="#8c8c8c" stroke-width="0.75" stroke-opacity="1.0"/>
<line x1="276.60" y1="41.80" x2="278.40" y2="41.80" stroke="#8c8c8c" stroke-width="0.75" stroke-opacity="1.0"/>
<line x1="276.60" y1="66.80" x2="278.40" y2="66.80" stroke="#8c8c8c" stroke-width="0.75" stroke-opacity="1.0"/>
<line x1="276.60" y1="91.80" x2="278.40" y2="91.80" stroke="#8c8c8c" stroke-width="0.75" stroke-opacity="1.0"/>
<line x1="276.60" y1="116.80" x2="278.40" y2="116.80" stroke="#8c8c8c" stroke-width="0.75" stroke-opacity="1.0"/>
<line x1="438.90" y1="29.10" x2="436.10" y2="29.10" stroke="#d84848" stroke-width="0.75" stroke-opacity="1.0"/>
<line x1="438.90" y1="54.10" x2="436.10" y2="54.10" stroke="#d84848" stroke-width="0.75" stroke-opacity="1.0"/>
<line x1="438.90" y1="79.10" x2="436.10" y2="79.10" stroke="#d84848" stroke-width="0.75" stroke-opacity="1.0"/>
<line x1="438.90" y1="104.10" x2="436.10" y2="104.10" stroke="#d84848" stroke-width="0.75" stroke-opacity="1.0"/>
<line x1="438.90" y1="41.60" x2="437.10" y2="41.60" stroke="#d84848" stroke-width="0.75" stroke-opacity="1.0"/>
<line x1="438.90" y1="66.60" x2="437.10" y2="66.60" stroke="#d84848" stroke-width="0.75" stroke-opacity="1.0"/>
<line x1="438.90" y1="91.60" x2="437.10" y2="91.60" stroke="#d84848" stroke-width="0.75" stroke-opacity="1.0"/>
<line x1="438.90" y1="116.60" x2="437.10" y2="116.60" stroke="#d84848" stroke-width="0.75" stroke-opacity="1.0"/>
<text x="276.60" y="139.00" text-anchor="middle" fill="#000" stroke="#000" stroke-width="0.18" font-size="8.2">0,0</text>
<text x="276.60" y="12.70" text-anchor="middle" fill="#ff1a1a" stroke="#ff1a1a" stroke-width="0.18" font-size="8.2">0,0</text>
<text x="309.06" y="139.00" text-anchor="middle" fill="#000" stroke="#000" stroke-width="0.18" font-size="8.2">0,2</text>
<text x="309.06" y="12.70" text-anchor="middle" fill="#ff1a1a" stroke="#ff1a1a" stroke-width="0.18" font-size="8.2">-0,2</text>
<text x="341.52" y="139.00" text-anchor="middle" fill="#000" stroke="#000" stroke-width="0.18" font-size="8.2">0,4</text>
<text x="341.52" y="12.70" text-anchor="middle" fill="#ff1a1a" stroke="#ff1a1a" stroke-width="0.18" font-size="8.2">-0,4</text>
<text x="373.98" y="139.00" text-anchor="middle" fill="#000" stroke="#000" stroke-width="0.18" font-size="8.2">0,6</text>
<text x="373.98" y="12.70" text-anchor="middle" fill="#ff1a1a" stroke="#ff1a1a" stroke-width="0.18" font-size="8.2">-0,6</text>
<text x="406.44" y="139.00" text-anchor="middle" fill="#000" stroke="#000" stroke-width="0.18" font-size="8.2">0,8</text>
<text x="406.44" y="12.70" text-anchor="middle" fill="#ff1a1a" stroke="#ff1a1a" stroke-width="0.18" font-size="8.2">-0,8</text>
<text x="438.90" y="139.00" text-anchor="middle" fill="#000" stroke="#000" stroke-width="0.18" font-size="8.2">1,0</text>
<text x="438.90" y="12.70" text-anchor="middle" fill="#ff1a1a" stroke="#ff1a1a" stroke-width="0.18" font-size="8.2">-1,0</text>
<text x="274.30" y="32.20" text-anchor="end" fill="#000" stroke="#000" stroke-width="0.18" font-size="8.2">0,1</text>
<text x="274.30" y="57.20" text-anchor="end" fill="#000" stroke="#000" stroke-width="0.18" font-size="8.2">0,0</text>
<text x="274.30" y="82.20" text-anchor="end" fill="#000" stroke="#000" stroke-width="0.18" font-size="8.2">-0,1</text>
<text x="274.30" y="107.20" text-anchor="end" fill="#000" stroke="#000" stroke-width="0.18" font-size="8.2">-0,2</text>
<text x="274.30" y="132.20" text-anchor="end" fill="#000" stroke="#000" stroke-width="0.18" font-size="8.2">-0,3</text>
<text x="441.50" y="32.00" text-anchor="start" fill="#ff1a1a" stroke="#ff1a1a" stroke-width="0.18" font-size="8.2">0,2</text>
<text x="441.50" y="57.00" text-anchor="start" fill="#ff1a1a" stroke="#ff1a1a" stroke-width="0.18" font-size="8.2">0,1</text>
<text x="441.50" y="82.00" text-anchor="start" fill="#ff1a1a" stroke="#ff1a1a" stroke-width="0.18" font-size="8.2">0,0</text>
<text x="441.50" y="107.00" text-anchor="start" fill="#ff1a1a" stroke="#ff1a1a" stroke-width="0.18" font-size="8.2">-0,1</text>
<text x="441.50" y="132.00" text-anchor="start" fill="#ff1a1a" stroke="#ff1a1a" stroke-width="0.18" font-size="8.2">-0,2</text>
<text x="358.40" y="153.20" text-anchor="middle" fill="#000" stroke="#000" stroke-width="0.18" font-size="8.2">1/B [1/T]</text>
<text x="253.60" y="76.80" text-anchor="middle" fill="#000" stroke="#000" stroke-width="0.18" font-size="8.6" transform="rotate(-90 253.6 76.8)">dG [G<tspan font-size="5.5" dy="2.3">0</tspan><tspan dy="-2.3">]</tspan></text>
<text x="467.20" y="76.20" text-anchor="middle" fill="#ff1a1a" stroke="#ff1a1a" stroke-width="0.18" font-size="8.6" transform="rotate(-90 467.2 76.2)">dG [G<tspan font-size="5.5" dy="2.3">0</tspan><tspan dy="-2.3">]</tspan></text>
<line x1="358.50" y1="27.50" x2="377.60" y2="27.50" stroke="#b0b0b0" stroke-width="0.6" stroke-opacity="1.0"/>
<text x="380.00" y="30.30" text-anchor="start" fill="#000" stroke="#000" stroke-width="0.18" font-size="8.2">positive Field</text>
<line x1="358.50" y1="38.60" x2="377.60" y2="38.60" stroke="#ffa0a0" stroke-width="0.6" stroke-opacity="1.0"/>
<text x="380.00" y="41.40" text-anchor="start" fill="#000" stroke="#000" stroke-width="0.18" font-size="8.2">negative Field</text>
<text x="287.50" y="117.00" text-anchor="start" fill="#000" stroke="#000" stroke-width="0.18" font-size="8.2">T = 4.2K</text>
<text x="0.50" y="174.20" text-anchor="start" fill="#000" stroke="#000" stroke-width="0.18" font-size="9.6">(c)</text>
<path d="M38.50 248.29 L40.50 246.45 L42.50 248.62 L44.50 246.78 L46.50 248.30 L48.50 246.15 L50.50 248.25 L52.50 246.71 L54.50 248.86 L56.50 246.36 L58.50 248.46 L60.50 246.44 L62.50 248.66 L64.50 246.61 L66.50 248.30 L68.50 246.25 L70.50 248.67 L72.50 246.44 L74.50 248.77 L76.50 246.42 L78.50 248.89 L79.50 247.00 L80.50 244.50 L84.00 250.00 L84.50 243.50 L89.50 255.00 L90.00 244.50 L96.00 261.00 L96.40 246.00 L101.50 267.00 L101.90 245.00 L107.80 272.20" fill="none" stroke="#000" stroke-width="0.8" stroke-opacity="1.0" stroke-linejoin="round"/>
<path d="M130.80 272.20 L136.70 245.00 L137.10 267.00 L142.20 246.00 L142.60 261.00 L148.60 244.50 L149.10 255.00 L154.10 243.50 L154.60 250.00 L158.10 244.50 L159.10 247.00 L160.10 248.89 L162.10 246.42 L164.10 248.77 L166.10 246.44 L168.10 248.67 L170.10 246.25 L172.10 248.30 L174.10 246.61 L176.10 248.66 L178.10 246.44 L180.10 248.46 L182.10 246.36 L184.10 248.86 L186.10 246.71 L188.10 248.25 L190.10 246.15 L192.10 248.30 L194.10 246.78 L196.10 248.62 L198.10 246.45 L200.10 248.29" fill="none" stroke="#000" stroke-width="0.8" stroke-opacity="1.0" stroke-linejoin="round"/>
<path d="M80.40 247.60 L81.40 245.10 L84.90 250.60 L85.40 244.10 L90.40 255.60 L90.90 245.10 L96.90 261.60 L97.30 246.60 L102.40 267.60 L102.80 245.60 L108.70 272.80" fill="none" stroke="#555" stroke-width="0.5" stroke-opacity="1.0" stroke-linejoin="round"/>
<path d="M129.90 272.80 L135.80 245.60 L136.20 267.60 L141.30 246.60 L141.70 261.60 L147.70 245.10 L148.20 255.60 L153.20 244.10 L153.70 250.60 L157.20 245.10 L158.20 247.60" fill="none" stroke="#555" stroke-width="0.5" stroke-opacity="1.0" stroke-linejoin="round"/>
<path d="M38.50 231.88 L40.50 229.64 L42.50 231.83 L44.50 230.17 L46.50 231.94 L48.50 230.14 L50.50 232.17 L52.50 230.22 L54.50 232.33 L56.50 229.70 L58.50 231.70 L60.50 229.92 L62.50 231.77 L64.50 230.12 L66.50 231.99 L68.50 229.98 L70.50 232.03 L72.50 229.65 L74.50 231.88 L76.50 230.17 L78.50 232.17 L79.50 231.00 L80.50 228.00 L84.00 233.50 L84.50 226.50 L89.80 237.00 L90.30 226.00 L96.20 243.00 L96.50 226.00 L101.50 248.00 L101.90 226.00 L107.80 250.50" fill="none" stroke="#ff1a1a" stroke-width="0.85" stroke-opacity="1.0" stroke-linejoin="round"/>
<path d="M130.80 250.50 L136.70 226.00 L137.10 248.00 L142.10 226.00 L142.40 243.00 L148.30 226.00 L148.80 237.00 L154.10 226.50 L154.60 233.50 L158.10 228.00 L159.10 231.00 L160.10 232.17 L162.10 230.17 L164.10 231.88 L166.10 229.65 L168.10 232.03 L170.10 229.98 L172.10 231.99 L174.10 230.12 L176.10 231.77 L178.10 229.92 L180.10 231.70 L182.10 229.70 L184.10 232.33 L186.10 230.22 L188.10 232.17 L190.10 230.14 L192.10 231.94 L194.10 230.17 L196.10 231.83 L198.10 229.64 L200.10 231.88" fill="none" stroke="#ff1a1a" stroke-width="0.85" stroke-opacity="1.0" stroke-linejoin="round"/>
<path d="M80.40 231.60 L81.40 228.60 L84.90 234.10 L85.40 227.10 L90.70 237.60 L91.20 226.60 L97.10 243.60 L97.40 226.60 L102.40 248.60 L102.80 226.60 L108.70 251.10" fill="none" stroke="#ff6060" stroke-width="0.5" stroke-opacity="1.0" stroke-linejoin="round"/>
<path d="M129.90 251.10 L135.80 226.60 L136.20 248.60 L141.20 226.60 L141.50 243.60 L147.40 226.60 L147.90 237.60 L153.20 227.10 L153.70 234.10 L157.20 228.60 L158.20 231.60" fill="none" stroke="#ff6060" stroke-width="0.5" stroke-opacity="1.0" stroke-linejoin="round"/>
<path d="M119.3 190 L121.5 197 L124.5 207 L126.8 218 L128.5 232 L130.5 251 L126.5 245 L123 232 L119.3 219 L115.6 232 L112 245 L108.1 251 L110.1 232 L111.8 218 L114.1 207 L117.1 197 Z" fill="#ff1a1a"/>
<path d="M107.20 250.50 L119.03 196.00 L129.60 250.50" fill="none" stroke="#ff1a1a" stroke-width="0.7" stroke-opacity="0.8" stroke-linejoin="round"/>
<path d="M109.00 250.50 L119.57 196.00 L131.40 250.50" fill="none" stroke="#ff1a1a" stroke-width="0.7" stroke-opacity="0.8" stroke-linejoin="round"/>
<path d="M119.00 184.00 L119.60 196.00" fill="none" stroke="#ff8080" stroke-width="0.5" stroke-opacity="1.0" stroke-linejoin="round"/>
<path d="M179.00 231.00 L179.50 223.50 L180.00 231.00" fill="none" stroke="#ff1a1a" stroke-width="0.5" stroke-opacity="1.0" stroke-linejoin="round"/>
<path d="M119.3 206.5 L121.6 213 L123.6 222 L125.6 236 L131.3 272.5 L130.1 272.5 L122.9 236 L119.3 222 L115.7 236 L108.5 272.5 L107.3 272.5 L113 236 L115 222 L117 213 Z" fill="#000"/>
<path d="M119.3 222 L122.5 236 L119.3 234 L116.1 236 Z" fill="#777" fill-opacity="0.6"/>
<line x1="38.20" y1="295.40" x2="200.40" y2="295.40" stroke="#b0b0b0" stroke-width="1.25" stroke-opacity="1.0"/>
<line x1="38.20" y1="183.20" x2="38.20" y2="295.40" stroke="#b0b0b0" stroke-width="1.25" stroke-opacity="1.0"/>
<line x1="38.20" y1="183.20" x2="200.40" y2="183.20" stroke="#b0b0b0" stroke-width="1.25" stroke-opacity="1.0"/>
<line x1="200.40" y1="183.20" x2="200.40" y2="295.40" stroke="#dc7c7c" stroke-width="1.25" stroke-opacity="1.0"/>
<line x1="48.34" y1="295.40" x2="48.34" y2="293.60" stroke="#8c8c8c" stroke-width="0.75" stroke-opacity="1.0"/>
<line x1="58.48" y1="295.40" x2="58.48" y2="292.60" stroke="#8c8c8c" stroke-width="0.75" stroke-opacity="1.0"/>
<line x1="68.61" y1="295.40" x2="68.61" y2="293.60" stroke="#8c8c8c" stroke-width="0.75" stroke-opacity="1.0"/>
<line x1="78.75" y1="295.40" x2="78.75" y2="292.60" stroke="#8c8c8c" stroke-width="0.75" stroke-opacity="1.0"/>
<line x1="88.89" y1="295.40" x2="88.89" y2="293.60" stroke="#8c8c8c" stroke-width="0.75" stroke-opacity="1.0"/>
<line x1="99.03" y1="295.40" x2="99.03" y2="292.60" stroke="#8c8c8c" stroke-width="0.75" stroke-opacity="1.0"/>
<line x1="109.16" y1="295.40" x2="109.16" y2="293.60" stroke="#8c8c8c" stroke-width="0.75" stroke-opacity="1.0"/>
<line x1="119.30" y1="295.40" x2="119.30" y2="292.60" stroke="#8c8c8c" stroke-width="0.75" stroke-opacity="1.0"/>
<line x1="129.44" y1="295.40" x2="129.44" y2="293.60" stroke="#8c8c8c" stroke-width="0.75" stroke-opacity="1.0"/>
<line x1="139.57" y1="295.40" x2="139.57" y2="292.60" stroke="#8c8c8c" stroke-width="0.75" stroke-opacity="1.0"/>
<line x1="149.71" y1="295.40" x2="149.71" y2="293.60" stroke="#8c8c8c" stroke-width="0.75" stroke-opacity="1.0"/>
<line x1="159.85" y1="295.40" x2="159.85" y2="292.60" stroke="#8c8c8c" stroke-width="0.75" stroke-opacity="1.0"/>
<line x1="169.99" y1="295.40" x2="169.99" y2="293.60" stroke="#8c8c8c" stroke-width="0.75" stroke-opacity="1.0"/>
<line x1="180.12" y1="295.40" x2="180.12" y2="292.60" stroke="#8c8c8c" stroke-width="0.75" stroke-opacity="1.0"/>
<line x1="190.26" y1="295.40" x2="190.26" y2="293.60" stroke="#8c8c8c" stroke-width="0.75" stroke-opacity="1.0"/>
<line x1="48.34" y1="183.20" x2="48.34" y2="185.00" stroke="#8c8c8c" stroke-width="0.75" stroke-opacity="1.0"/>
<line x1="58.48" y1="183.20" x2="58.48" y2="186.00" stroke="#8c8c8c" stroke-width="0.75" stroke-opacity="1.0"/>
<line x1="68.61" y1="183.20" x2="68.61" y2="185.00" stroke="#8c8c8c" stroke-width="0.75" stroke-opacity="1.0"/>
<line x1="78.75" y1="183.20" x2="78.75" y2="186.00" stroke="#8c8c8c" stroke-width="0.75" stroke-opacity="1.0"/>
<line x1="88.89" y1="183.20" x2="88.89" y2="185.00" stroke="#8c8c8c" stroke-width="0.75" stroke-opacity="1.0"/>
<line x1="99.03" y1="183.20" x2="99.03" y2="186.00" stroke="#8c8c8c" stroke-width="0.75" stroke-opacity="1.0"/>
<line x1="109.16" y1="183.20" x2="109.16" y2="185.00" stroke="#8c8c8c" stroke-width="0.75" stroke-opacity="1.0"/>
<line x1="119.30" y1="183.20" x2="119.30" y2="186.00" stroke="#8c8c8c" stroke-width="0.75" stroke-opacity="1.0"/>
<line x1="129.44" y1="183.20" x2="129.44" y2="185.00" stroke="#8c8c8c" stroke-width="0.75" stroke-opacity="1.0"/>
<line x1="139.57" y1="183.20" x2="139.57" y2="186.00" stroke="#8c8c8c" stroke-width="0.75" stroke-opacity="1.0"/>
<line x1="149.71" y1="183.20" x2="149.71" y2="185.00" stroke="#8c8c8c" stroke-width="0.75" stroke-opacity="1.0"/>
<line x1="159.85" y1="183.20" x2="159.85" y2="186.00" stroke="#8c8c8c" stroke-width="0.75" stroke-opacity="1.0"/>
<line x1="169.99" y1="183.20" x2="169.99" y2="185.00" stroke="#8c8c8c" stroke-width="0.75" stroke-opacity="1.0"/>
<line x1="180.12" y1="183.20" x2="180.12" y2="186.00" stroke="#8c8c8c" stroke-width="0.75" stroke-opacity="1.0"/>
<line x1="190.26" y1="183.20" x2="190.26" y2="185.00" stroke="#8c8c8c" stroke-width="0.75" stroke-opacity="1.0"/>
<line x1="38.20" y1="215.40" x2="41.00" y2="215.40" stroke="#8c8c8c" stroke-width="0.75" stroke-opacity="1.0"/>
<line x1="38.20" y1="247.40" x2="41.00" y2="247.40" stroke="#8c8c8c" stroke-width="0.75" stroke-opacity="1.0"/>
<line x1="38.20" y1="279.40" x2="41.00" y2="279.40" stroke="#8c8c8c" stroke-width="0.75" stroke-opacity="1.0"/>
<line x1="38.20" y1="199.40" x2="40.00" y2="199.40" stroke="#8c8c8c" stroke-width="0.75" stroke-opacity="1.0"/>
<line x1="38.20" y1="231.40" x2="40.00" y2="231.40" stroke="#8c8c8c" stroke-width="0.75" stroke-opacity="1.0"/>
<line x1="38.20" y1="263.40" x2="40.00" y2="263.40" stroke="#8c8c8c" stroke-width="0.75" stroke-opacity="1.0"/>
<line x1="200.40" y1="199.00" x2="197.60" y2="199.00" stroke="#d84848" stroke-width="0.75" stroke-opacity="1.0"/>
<line x1="200.40" y1="231.00" x2="197.60" y2="231.00" stroke="#d84848" stroke-width="0.75" stroke-opacity="1.0"/>
<line x1="200.40" y1="263.00" x2="197.60" y2="263.00" stroke="#d84848" stroke-width="0.75" stroke-opacity="1.0"/>
<line x1="200.40" y1="215.00" x2="198.60" y2="215.00" stroke="#d84848" stroke-width="0.75" stroke-opacity="1.0"/>
<line x1="200.40" y1="247.00" x2="198.60" y2="247.00" stroke="#d84848" stroke-width="0.75" stroke-opacity="1.0"/>
<line x1="200.40" y1="279.00" x2="198.60" y2="279.00" stroke="#d84848" stroke-width="0.75" stroke-opacity="1.0"/>
<text x="38.20" y="305.00" text-anchor="middle" fill="#000" stroke="#000" stroke-width="0.18" font-size="8.2">-8</text>
<text x="58.48" y="305.00" text-anchor="middle" fill="#000" stroke="#000" stroke-width="0.18" font-size="8.2">-6</text>
<text x="78.75" y="305.00" text-anchor="middle" fill="#000" stroke="#000" stroke-width="0.18" font-size="8.2">-4</text>
<text x="99.03" y="305.00" text-anchor="middle" fill="#000" stroke="#000" stroke-width="0.18" font-size="8.2">-2</text>
<text x="119.30" y="305.00" text-anchor="middle" fill="#000" stroke="#000" stroke-width="0.18" font-size="8.2">0</text>
<text x="139.57" y="305.00" text-anchor="middle" fill="#000" stroke="#000" stroke-width="0.18" font-size="8.2">2</text>
<text x="159.85" y="305.00" text-anchor="middle" fill="#000" stroke="#000" stroke-width="0.18" font-size="8.2">4</text>
<text x="180.12" y="305.00" text-anchor="middle" fill="#000" stroke="#000" stroke-width="0.18" font-size="8.2">6</text>
<text x="200.40" y="305.00" text-anchor="middle" fill="#000" stroke="#000" stroke-width="0.18" font-size="8.2">8</text>
<text x="35.80" y="186.30" text-anchor="end" fill="#000" stroke="#000" stroke-width="0.18" font-size="8.2">0,4</text>
<text x="35.80" y="218.30" text-anchor="end" fill="#000" stroke="#000" stroke-width="0.18" font-size="8.2">0,2</text>
<text x="35.80" y="250.30" text-anchor="end" fill="#000" stroke="#000" stroke-width="0.18" font-size="8.2">0,0</text>
<text x="35.80" y="282.30" text-anchor="end" fill="#000" stroke="#000" stroke-width="0.18" font-size="8.2">-0,2</text>
<text x="203.00" y="201.90" text-anchor="start" fill="#ff1a1a" stroke="#ff1a1a" stroke-width="0.18" font-size="8.2">0,2</text>
<text x="203.00" y="233.90" text-anchor="start" fill="#ff1a1a" stroke="#ff1a1a" stroke-width="0.18" font-size="8.2">0,0</text>
<text x="203.00" y="265.90" text-anchor="start" fill="#ff1a1a" stroke="#ff1a1a" stroke-width="0.18" font-size="8.2">-0,2</text>
<text x="203.00" y="297.90" text-anchor="start" fill="#ff1a1a" stroke="#ff1a1a" stroke-width="0.18" font-size="8.2">-0,4</text>
<text x="119.40" y="318.40" text-anchor="middle" fill="#000" stroke="#000" stroke-width="0.18" font-size="8.2">Magnetic field [T]</text>
<text x="11.00" y="242.60" text-anchor="middle" fill="#000" stroke="#000" stroke-width="0.18" font-size="8.6" transform="rotate(-90 11.0 242.6)">dG [G<tspan font-size="5.5" dy="2.3">0</tspan><tspan dy="-2.3">]</tspan></text>
<text x="229.80" y="245.00" text-anchor="middle" fill="#ff1a1a" stroke="#ff1a1a" stroke-width="0.18" font-size="8.6" transform="rotate(-90 229.8 245.0)">dG [G<tspan font-size="5.5" dy="2.3">0</tspan><tspan dy="-2.3">]</tspan></text>
<text x="134.20" y="195.80" text-anchor="start" fill="#000" stroke="#000" stroke-width="0.18" font-size="8.2">sweep direction</text>
<line x1="134.20" y1="203.30" x2="152.90" y2="203.30" stroke="#ffa0a0" stroke-width="0.6" stroke-opacity="1.0"/>
<text x="155.30" y="206.10" text-anchor="start" fill="#000" stroke="#000" stroke-width="0.18" font-size="8.2">up</text>
<line x1="134.20" y1="213.70" x2="152.90" y2="213.70" stroke="#a0a0a0" stroke-width="0.6" stroke-opacity="1.0"/>
<text x="155.30" y="216.50" text-anchor="start" fill="#000" stroke="#000" stroke-width="0.18" font-size="8.2">down</text>
<text x="49.50" y="282.80" text-anchor="start" fill="#000" stroke="#000" stroke-width="0.18" font-size="8.2">T = 4.2K</text>
<text x="238.50" y="174.20" text-anchor="start" fill="#000" stroke="#000" stroke-width="0.18" font-size="9.6">(d)</text>
<path d="M297.00 231.11 L297.15 230.47 L297.30 230.99 L297.45 230.76 L297.60 230.93 L297.75 231.17 L297.90 230.49 L298.05 231.47 L298.20 231.66 L298.35 230.69 L298.50 231.19 L298.65 231.96 L298.80 231.04 L298.95 230.76 L299.10 231.15 L299.25 230.64 L299.40 231.16 L299.55 231.12 L299.70 231.07 L299.85 231.06 L300.00 230.89 L300.15 230.68 L300.30 230.57 L300.45 229.89 L300.60 231.42 L300.75 230.62 L300.90 230.45 L301.05 231.91 L301.20 231.02 L301.35 230.79 L301.50 231.30 L301.65 231.01 L301.80 230.85 L301.95 230.66 L302.10 230.97 L302.25 231.07 L302.40 231.46 L302.55 230.87 L302.70 230.72 L302.85 231.30 L303.00 230.96 L303.15 231.35 L303.30 230.91 L303.45 231.32 L303.60 230.72 L303.75 231.11 L303.90 230.97 L304.05 231.33 L304.20 230.87 L304.35 231.48 L304.50 230.00 L304.65 231.09 L304.80 231.59 L304.95 230.73 L305.10 231.00 L305.25 231.01 L305.40 230.69 L305.55 230.98 L305.70 230.72 L305.85 231.13 L306.00 231.25 L306.15 231.43 L306.30 230.47 L306.45 230.58 L306.60 231.02 L306.75 230.84 L306.90 230.66 L307.05 230.81 L307.20 231.25 L307.35 230.09 L307.50 230.77 L307.65 230.63 L307.80 231.19 L307.95 231.93 L308.10 231.54 L308.25 230.79 L308.40 231.19 L308.55 230.96 L308.70 231.31 L308.85 231.79 L309.00 230.97 L309.15 230.79 L309.30 231.17 L309.45 231.41 L309.60 230.45 L309.75 231.07 L309.90 232.10 L310.05 230.62 L310.20 230.86 L310.35 230.50 L310.50 231.47 L310.65 230.21 L310.80 230.91 L310.95 230.91 L311.10 230.90 L311.25 229.86 L311.40 230.42 L311.55 231.04 L311.70 230.67 L311.85 230.02 L312.00 230.50 L312.15 230.27 L312.30 230.46 L312.45 230.09 L312.60 229.96 L312.75 230.37 L312.90 228.77 L313.05 230.24 L313.20 229.58 L313.35 230.39 L313.50 230.75 L313.65 230.04 L313.80 230.91 L313.95 229.73 L314.10 229.51 L314.25 230.10 L314.40 230.08 L314.55 229.64 L314.70 229.81 L314.85 229.55 L315.00 229.79 L315.15 230.21 L315.30 229.33 L315.45 229.64 L315.60 230.09 L315.75 229.50 L315.90 230.14 L316.05 228.08 L316.20 229.75 L316.35 229.28 L316.50 229.90 L316.65 229.50 L316.80 229.76 L316.95 229.47 L317.10 229.14 L317.25 230.59 L317.40 230.01 L317.55 230.34 L317.70 231.02 L317.85 231.23 L318.00 230.49 L318.15 230.90 L318.30 231.26 L318.45 231.76 L318.60 230.07 L318.75 231.39 L318.90 231.78 L319.05 232.18 L319.20 232.03 L319.35 231.38 L319.50 232.93 L319.65 232.80 L319.80 232.54 L319.95 232.12 L320.10 232.15 L320.25 232.84 L320.40 232.41 L320.55 232.82 L320.70 231.53 L320.85 232.47 L321.00 232.43 L321.15 231.74 L321.30 232.07 L321.45 231.56 L321.60 231.78 L321.75 233.15 L321.90 230.85 L322.05 230.91 L322.20 231.67 L322.35 231.75 L322.50 232.32 L322.65 231.89 L322.80 230.74 L322.95 231.15 L323.10 231.71 L323.25 232.16 L323.40 231.07 L323.55 229.98 L323.70 230.59 L323.85 230.76 L324.00 230.15 L324.15 231.02 L324.30 230.11 L324.45 231.34 L324.60 229.87 L324.75 229.39 L324.90 230.56 L325.05 229.78 L325.20 229.73 L325.35 229.52 L325.50 229.68 L325.65 227.78 L325.80 229.10 L325.95 228.85 L326.10 229.86 L326.25 228.86 L326.40 230.34 L326.55 229.89 L326.70 229.82 L326.85 229.58 L327.00 230.36 L327.15 229.62 L327.30 229.42 L327.45 230.67 L327.60 228.61 L327.75 228.67 L327.90 228.32 L328.05 226.95 L328.20 226.05 L328.35 227.25 L328.50 227.49 L328.65 226.79 L328.80 227.12 L328.95 226.92 L329.10 228.70 L329.25 227.77 L329.40 228.17 L329.55 227.30 L329.70 227.36 L329.85 227.71 L330.00 223.73 L330.15 232.11 L330.30 225.38 L330.45 227.02 L330.60 227.03 L330.75 227.82 L330.90 226.80 L331.05 222.52 L331.20 228.09 L331.35 226.59 L331.50 226.44 L331.65 224.76 L331.80 228.29 L331.95 225.44 L332.10 228.06 L332.25 226.23 L332.40 227.91 L332.55 226.42 L332.70 228.38 L332.85 226.99 L333.00 226.68 L333.15 227.86 L333.30 226.79 L333.45 226.64 L333.60 231.55 L333.75 226.57 L333.90 227.67 L334.05 227.04 L334.20 224.28 L334.35 228.44 L334.50 225.06 L334.65 229.40 L334.80 223.01 L334.95 229.02 L335.10 225.58 L335.25 226.59 L335.40 231.42 L335.55 229.90 L335.70 225.93 L335.85 230.10 L336.00 227.97 L336.15 227.33 L336.30 228.39 L336.45 227.41 L336.60 224.56 L336.75 231.33 L336.90 229.73 L337.05 229.78 L337.20 229.04 L337.35 236.59 L337.50 225.31 L337.65 230.13 L337.80 225.77 L337.95 226.14 L338.10 227.75 L338.25 230.20 L338.40 232.18 L338.55 227.18 L338.70 231.71 L338.85 230.09 L339.00 228.04 L339.15 232.38 L339.30 230.86 L339.45 229.31 L339.60 228.60 L339.75 229.72 L339.90 230.72 L340.05 228.74 L340.20 228.15 L340.35 229.10 L340.50 232.40 L340.65 226.43 L340.80 225.85 L340.95 234.14 L341.10 226.76 L341.25 231.58 L341.40 230.38 L341.55 240.00 L341.70 229.75 L341.85 228.74 L342.00 232.48 L342.15 227.84 L342.30 229.06 L342.45 230.62 L342.60 228.58 L342.75 230.63 L342.90 230.70 L343.05 236.62 L343.20 235.54 L343.35 234.88 L343.50 232.58 L343.65 230.80 L343.80 229.34 L343.95 228.14 L344.10 229.82 L344.25 234.83 L344.40 228.91 L344.55 230.27 L344.70 219.43 L344.85 231.81 L345.00 233.37 L345.15 229.21 L345.30 229.04 L345.45 233.68 L345.60 231.24 L345.75 230.49 L345.90 232.62 L346.05 234.85 L346.20 230.87 L346.35 233.96 L346.50 228.67 L346.65 230.35 L346.80 225.63 L346.95 231.81 L347.10 234.94 L347.25 234.40 L347.40 230.35 L347.55 238.29 L347.70 230.59 L347.85 238.04 L348.00 231.54 L348.15 243.00 L348.30 232.63 L348.45 230.93 L348.60 234.62 L348.75 234.50 L348.90 233.84 L349.05 231.05 L349.20 236.99 L349.35 234.67 L349.50 231.18 L349.65 222.82 L349.80 235.04 L349.95 235.65 L350.10 233.66 L350.25 236.29 L350.40 230.21 L350.55 242.35 L350.70 231.53 L350.85 230.89 L351.00 235.32 L351.15 231.35 L351.30 238.12 L351.45 230.77 L351.60 240.29 L351.75 234.59 L351.90 236.84 L352.05 234.02 L352.20 235.79 L352.35 239.45 L352.50 233.85 L352.65 238.34 L352.80 235.50 L352.95 232.76 L353.10 236.36 L353.25 234.56 L353.40 230.33 L353.55 233.32 L353.70 240.31 L353.85 237.44 L354.00 234.07 L354.15 230.15 L354.30 243.13 L354.45 223.74 L354.60 239.15 L354.75 233.46 L354.90 232.75 L355.05 241.59 L355.20 230.35 L355.35 237.25 L355.50 233.67 L355.65 240.51 L355.80 235.26 L355.95 239.35 L356.10 229.09 L356.25 231.11 L356.40 240.49 L356.55 236.94 L356.70 240.22 L356.85 232.72 L357.00 238.06 L357.15 229.18 L357.30 243.48 L357.45 235.79 L357.60 241.14 L357.75 238.31 L357.90 237.64 L358.05 224.00 L358.20 236.95 L358.35 235.73 L358.50 236.16 L358.65 246.30 L358.80 236.79 L358.95 237.01 L359.10 238.98 L359.25 240.67 L359.40 232.99 L359.55 237.99 L359.70 240.72 L359.85 238.63 L360.00 236.68 L360.15 238.95 L360.30 239.97 L360.45 234.65 L360.60 239.15 L360.75 237.07 L360.90 243.99 L361.05 241.94 L361.20 240.38 L361.35 241.11 L361.50 238.60 L361.65 236.55 L361.80 232.61 L361.95 244.43 L362.10 242.91 L362.25 240.97 L362.40 238.80 L362.55 236.46 L362.70 237.97 L362.85 244.36 L363.00 237.24 L363.15 237.45 L363.30 231.86 L363.45 238.98 L363.60 243.62 L363.75 238.21 L363.90 233.34 L364.05 236.37 L364.20 246.16 L364.35 239.44 L364.50 236.58 L364.65 240.98 L364.80 253.29 L364.95 222.85 L365.10 241.20 L365.25 243.20 L365.40 232.11 L365.55 235.53 L365.70 242.24 L365.85 239.83 L366.00 237.50 L366.15 235.14 L366.30 239.87 L366.45 240.85 L366.60 239.59 L366.75 246.78 L366.90 239.02 L367.05 241.34 L367.20 244.01 L367.35 244.29 L367.50 248.11 L367.65 246.83 L367.80 244.57 L367.95 236.49 L368.10 240.26 L368.25 233.87 L368.40 233.95 L368.55 240.64 L368.70 238.28 L368.85 239.60 L369.00 245.45 L369.15 245.28 L369.30 245.39 L369.45 241.93 L369.60 246.29 L369.75 246.58 L369.90 227.52 L370.05 245.19 L370.20 239.87 L370.35 248.10 L370.50 238.70 L370.65 239.63 L370.80 242.36 L370.95 241.63 L371.10 242.16 L371.25 244.44 L371.40 243.18 L371.55 242.79 L371.70 243.37 L371.85 240.79 L372.00 249.70 L372.15 247.36 L372.30 244.07 L372.45 239.74 L372.60 246.01 L372.75 238.66 L372.90 246.09 L373.05 248.04 L373.20 247.70 L373.35 240.16 L373.50 248.44 L373.65 243.82 L373.80 245.85 L373.95 249.80 L374.10 260.24 L374.25 241.54 L374.40 246.41 L374.55 248.26 L374.70 241.49 L374.85 247.37 L375.00 244.27 L375.15 246.56 L375.30 249.69 L375.45 249.26 L375.60 241.53 L375.75 248.78 L375.90 246.70 L376.05 242.24 L376.20 243.97 L376.35 250.59 L376.50 248.84 L376.65 246.17 L376.80 237.17 L376.95 242.97 L377.10 244.53 L377.25 248.22 L377.40 245.01 L377.55 249.66 L377.70 263.15 L377.85 249.62 L378.00 253.02 L378.15 253.90 L378.30 253.86 L378.45 247.92 L378.60 243.53 L378.75 252.50 L378.90 251.59 L379.05 247.17 L379.20 243.51 L379.35 245.88 L379.50 247.18 L379.65 242.67 L379.80 256.29 L379.95 247.91 L380.10 253.60 L380.25 245.93 L380.40 248.61 L380.55 247.46 L380.70 244.84 L380.85 246.94 L381.00 245.73 L381.15 248.63 L381.30 249.39 L381.45 249.64 L381.60 251.04 L381.75 254.14 L381.90 245.76 L382.05 243.21 L382.20 246.24 L382.35 253.80 L382.50 248.80 L382.65 248.36 L382.80 251.31 L382.95 252.74 L383.10 245.59 L383.25 247.49 L383.40 253.98 L383.55 251.07 L383.70 247.53 L383.85 247.55 L384.00 251.59 L384.15 251.83 L384.30 255.93 L384.45 250.01 L384.60 252.40 L384.75 251.98 L384.90 256.82 L385.05 252.73 L385.20 247.34 L385.35 249.88 L385.50 251.74 L385.65 251.59 L385.80 254.82 L385.95 252.08 L386.10 249.43 L386.25 254.08 L386.40 252.40 L386.55 254.80 L386.70 248.23 L386.85 255.28 L387.00 245.99 L387.15 253.65 L387.30 257.15 L387.45 245.47 L387.60 248.28 L387.75 250.84 L387.90 251.33 L388.05 244.45 L388.20 253.20 L388.35 241.34 L388.50 244.76 L388.65 253.73 L388.80 251.14 L388.95 252.45 L389.10 249.65 L389.25 242.03 L389.40 252.58 L389.55 244.03 L389.70 254.65 L389.85 250.76 L390.00 251.80 L390.15 264.94 L390.30 251.71 L390.45 253.00 L390.60 251.13 L390.75 247.39 L390.90 244.11 L391.05 249.81 L391.20 246.76 L391.35 246.32 L391.50 250.16 L391.65 254.12 L391.80 248.94 L391.95 248.10 L392.10 248.70 L392.25 244.45 L392.40 245.13 L392.55 243.79 L392.70 247.38 L392.85 245.92 L393.00 249.33 L393.15 247.56 L393.30 250.24 L393.45 237.57 L393.60 239.71 L393.75 246.35 L393.90 244.74 L394.05 242.71 L394.20 243.60 L394.35 243.17 L394.50 245.21 L394.65 244.41 L394.80 242.64 L394.95 250.05 L395.10 241.13 L395.25 233.86 L395.40 242.19 L395.55 244.81 L395.70 243.56 L395.85 234.19 L396.00 244.31 L396.15 240.66 L396.30 245.86 L396.45 236.29 L396.60 236.84 L396.75 236.37 L396.90 247.00 L397.05 243.72 L397.20 235.93 L397.35 247.89 L397.50 244.53 L397.65 242.62 L397.80 231.21 L397.95 239.35 L398.10 235.46 L398.25 242.54 L398.40 233.60 L398.55 238.59 L398.70 229.30 L398.85 241.97 L399.00 232.91 L399.15 239.22 L399.30 237.28 L399.45 237.18 L399.60 237.12 L399.75 240.51 L399.90 231.95 L400.05 229.49 L400.20 216.76 L400.35 227.71 L400.50 223.15 L400.65 238.31 L400.80 230.84 L400.95 234.13 L401.10 226.98 L401.25 234.48 L401.40 233.95 L401.55 241.73 L401.70 233.92 L401.85 236.65 L402.00 233.57 L402.15 229.98 L402.30 226.20 L402.45 234.72 L402.60 231.02 L402.75 235.33 L402.90 233.36 L403.05 229.11 L403.20 220.16 L403.35 235.20 L403.50 223.07 L403.65 223.47 L403.80 220.72 L403.95 230.79 L404.10 209.92 L404.25 223.21 L404.40 224.15 L404.55 231.43 L404.70 225.58 L404.85 225.19 L405.00 230.23 L405.15 227.90 L405.30 218.88 L405.45 225.05 L405.60 218.94 L405.75 216.09 L405.90 229.64 L406.05 220.40 L406.20 214.60 L406.35 217.15 L406.50 215.63 L406.65 236.04 L406.80 213.82 L406.95 213.89 L407.10 223.97 L407.25 224.05 L407.40 224.15 L407.55 228.69 L407.70 227.48 L407.85 223.93 L408.00 210.41 L408.15 213.55 L408.30 219.89 L408.45 223.38 L408.60 218.05 L408.75 201.20 L408.90 214.58 L409.05 225.51 L409.20 210.43 L409.35 210.95 L409.50 218.90 L409.65 216.05 L409.80 217.63 L409.95 223.63 L410.10 236.07 L410.25 214.36 L410.40 219.99 L410.55 225.96 L410.70 219.30 L410.85 219.69 L411.00 207.90 L411.15 207.14 L411.30 216.68 L411.45 208.80 L411.60 221.02 L411.75 215.18 L411.90 240.46 L412.05 220.01 L412.20 214.23 L412.35 215.58 L412.50 219.36 L412.65 223.35 L412.80 216.39 L412.95 208.24 L413.10 208.95 L413.25 206.77 L413.40 197.54 L413.55 215.82 L413.70 216.51 L413.85 227.20 L414.00 208.97 L414.15 206.45 L414.30 213.51 L414.45 210.47 L414.60 203.26 L414.75 205.67 L414.90 200.43 L415.05 206.26 L415.20 206.08 L415.35 211.43 L415.50 222.26 L415.65 209.47 L415.80 208.73 L415.95 226.59 L416.10 195.38 L416.25 204.15 L416.40 216.34 L416.55 213.62 L416.70 205.22 L416.85 203.98 L417.00 203.26 L417.15 216.18 L417.30 221.87 L417.45 218.35 L417.60 216.51 L417.75 198.63 L417.90 209.33 L418.05 219.00 L418.20 214.81 L418.35 219.18 L418.50 206.73 L418.65 208.06 L418.80 226.05 L418.95 201.67 L419.10 203.37 L419.25 210.25 L419.40 220.17 L419.55 216.54 L419.70 225.78 L419.85 211.11 L420.00 216.93 L420.15 222.75 L420.30 214.85 L420.45 205.92 L420.60 226.43 L420.75 220.36 L420.90 241.92 L421.05 215.80 L421.20 206.40 L421.35 220.64 L421.50 215.79 L421.65 209.16 L421.80 214.33 L421.95 221.98 L422.10 232.40 L422.25 209.18 L422.40 216.86 L422.55 215.67 L422.70 238.52 L422.85 226.81 L423.00 228.52 L423.15 222.00 L423.30 208.25 L423.45 216.47 L423.60 223.83 L423.75 219.05 L423.90 210.86 L424.05 224.94 L424.20 223.99 L424.35 219.97 L424.50 217.37 L424.65 220.51 L424.80 222.53 L424.95 222.66 L425.10 217.00 L425.25 215.21 L425.40 225.94 L425.55 219.41 L425.70 228.39 L425.85 224.50 L426.00 217.70 L426.15 218.73 L426.30 212.83 L426.45 214.49 L426.60 240.08 L426.75 219.15 L426.90 215.41 L427.05 216.03 L427.20 219.35 L427.35 221.75 L427.50 219.71 L427.65 219.90 L427.80 234.08 L427.95 218.93 L428.10 209.68 L428.25 225.71 L428.40 225.36 L428.55 227.89 L428.70 222.82 L428.85 233.59 L429.00 221.19 L429.15 224.49 L429.30 221.19 L429.45 233.15 L429.60 220.74 L429.75 229.25 L429.90 225.30 L430.05 233.59 L430.20 225.43 L430.35 221.53 L430.50 233.21 L430.65 228.13 L430.80 215.81 L430.95 218.05 L431.10 213.49 L431.25 241.15 L431.40 227.74 L431.55 226.33 L431.70 216.30 L431.85 237.76 L432.00 218.47 L432.15 214.19 L432.30 229.22 L432.45 214.52 L432.60 228.28 L432.75 217.56 L432.90 238.84 L433.05 219.61 L433.20 222.74 L433.35 220.51 L433.50 215.17 L433.65 225.63 L433.80 216.08 L433.95 211.46 L434.10 232.93 L434.25 228.16 L434.40 220.99 L434.55 214.05 L434.70 216.04 L434.85 227.15 L435.00 216.84 L435.15 222.50 L435.30 210.94 L435.45 230.40 L435.60 220.70 L435.75 227.27 L435.90 229.70 L436.05 227.85 L436.20 227.70 L436.35 222.53 L436.50 223.50 L436.65 237.58 L436.80 238.65 L436.95 230.16" fill="none" stroke="#000" stroke-width="0.3" stroke-opacity="1.0" stroke-linejoin="round"/>
<path d="M297.00 230.77 L297.30 230.79 L297.60 231.24 L297.90 231.16 L298.20 230.94 L298.50 231.08 L298.80 231.36 L299.10 231.27 L299.40 230.85 L299.70 230.80 L300.00 231.03 L300.30 231.14 L300.60 230.89 L300.90 231.35 L301.20 230.84 L301.50 231.32 L301.80 231.21 L302.10 230.59 L302.40 230.96 L302.70 230.90 L303.00 231.07 L303.30 230.87 L303.60 231.28 L303.90 231.18 L304.20 231.39 L304.50 231.16 L304.80 231.10 L305.10 230.68 L305.40 231.09 L305.70 230.73 L306.00 230.80 L306.30 231.07 L306.60 230.83 L306.90 230.92 L307.20 231.04 L307.50 231.07 L307.80 231.15 L308.10 231.12 L308.40 231.08 L308.70 230.78 L309.00 231.12 L309.30 230.89 L309.60 231.10 L309.90 231.30 L310.20 230.51 L310.50 230.74 L310.80 230.79 L311.10 230.79 L311.40 230.71 L311.70 230.34 L312.00 230.68 L312.30 230.47 L312.60 230.41 L312.90 230.19 L313.20 230.46 L313.50 230.53 L313.80 230.27 L314.10 230.06 L314.40 229.99 L314.70 229.78 L315.00 229.46 L315.30 229.55 L315.60 229.61 L315.90 229.55 L316.20 229.62 L316.50 229.18 L316.80 229.51 L317.10 229.85 L317.40 230.08 L317.70 230.57 L318.00 231.06 L318.30 231.33 L318.60 231.60 L318.90 231.42 L319.20 231.73 L319.50 232.54 L319.80 232.13 L320.10 232.15 L320.40 232.30 L320.70 232.41 L321.00 231.97 L321.30 231.79 L321.60 231.79 L321.90 231.20 L322.20 231.75 L322.50 231.69 L322.80 231.17 L323.10 231.03 L323.40 230.44 L323.70 230.96 L324.00 230.32 L324.30 230.04 L324.60 229.51 L324.90 229.89 L325.20 230.73 L325.50 229.95 L325.80 229.15 L326.10 229.13 L326.40 228.27 L326.70 229.00 L327.00 229.03 L327.30 228.29 L327.60 228.68 L327.90 227.52 L328.20 227.65 L328.50 228.01 L328.80 228.10 L329.10 226.97 L329.40 227.31 L329.70 226.62 L330.00 226.12 L330.30 228.20 L330.60 226.45 L330.90 225.93 L331.20 227.60 L331.50 227.47 L331.80 225.61 L332.10 226.05 L332.40 227.54 L332.70 227.14 L333.00 227.21 L333.30 229.14 L333.60 227.30 L333.90 226.71 L334.20 226.90 L334.50 226.68 L334.80 227.85 L335.10 226.23 L335.40 227.32 L335.70 228.91 L336.00 227.97 L336.30 228.69 L336.60 227.16 L336.90 231.08 L337.20 227.46 L337.50 229.46 L337.80 230.37 L338.10 228.24 L338.40 230.64 L338.70 232.32 L339.00 229.79 L339.30 227.76 L339.60 230.59 L339.90 226.32 L340.20 230.85 L340.50 230.32 L340.80 231.44 L341.10 230.02 L341.40 231.40 L341.70 228.43 L342.00 231.12 L342.30 228.41 L342.60 230.03 L342.90 227.88 L343.20 228.98 L343.50 231.44 L343.80 231.20 L344.10 230.74 L344.40 230.10 L344.70 231.69 L345.00 230.87 L345.30 232.25 L345.60 233.58 L345.90 233.01 L346.20 233.36 L346.50 232.20 L346.80 232.21 L347.10 234.97 L347.40 233.60 L347.70 233.56 L348.00 231.37 L348.30 233.58 L348.60 235.46 L348.90 235.93 L349.20 235.69 L349.50 235.98 L349.80 236.73 L350.10 232.99 L350.40 232.34 L350.70 236.69 L351.00 236.01 L351.30 239.42 L351.60 236.01 L351.90 233.33 L352.20 236.61 L352.50 234.59 L352.80 231.28 L353.10 231.94 L353.40 231.07 L353.70 234.19 L354.00 234.61 L354.30 234.85 L354.60 234.37 L354.90 234.97 L355.20 237.22 L355.50 233.51 L355.80 238.99 L356.10 238.68 L356.40 233.09 L356.70 237.52 L357.00 233.74 L357.30 236.28 L357.60 239.50 L357.90 234.63 L358.20 236.87 L358.50 241.30 L358.80 237.04 L359.10 238.25 L359.40 237.01 L359.70 238.32 L360.00 237.09 L360.30 241.99 L360.60 239.51 L360.90 235.14 L361.20 241.33 L361.50 240.51 L361.80 238.24 L362.10 236.38 L362.40 239.00 L362.70 242.50 L363.00 236.47 L363.30 241.26 L363.60 239.07 L363.90 238.08 L364.20 241.35 L364.50 240.68 L364.80 237.83 L365.10 239.87 L365.40 236.89 L365.70 239.21 L366.00 237.41 L366.30 236.97 L366.60 238.06 L366.90 238.43 L367.20 240.89 L367.50 240.27 L367.80 243.68 L368.10 237.24 L368.40 244.31 L368.70 243.17 L369.00 245.03 L369.30 244.89 L369.60 241.83 L369.90 241.64 L370.20 244.85 L370.50 241.70 L370.80 246.38 L371.10 244.35 L371.40 246.00 L371.70 246.74 L372.00 239.28 L372.30 243.64 L372.60 244.57 L372.90 244.11 L373.20 244.91 L373.50 244.95 L373.80 246.72 L374.10 245.98 L374.40 243.64 L374.70 244.19 L375.00 247.10 L375.30 247.93 L375.60 245.37 L375.90 247.90 L376.20 250.19 L376.50 246.01 L376.80 244.33 L377.10 249.07 L377.40 249.07 L377.70 246.57 L378.00 247.80 L378.30 244.52 L378.60 244.20 L378.90 247.34 L379.20 244.86 L379.50 248.48 L379.80 252.83 L380.10 247.39 L380.40 252.27 L380.70 248.55 L381.00 249.39 L381.30 248.74 L381.60 243.68 L381.90 252.66 L382.20 252.14 L382.50 250.24 L382.80 250.58 L383.10 254.94 L383.40 251.09 L383.70 253.26 L384.00 247.58 L384.30 251.19 L384.60 246.90 L384.90 251.75 L385.20 249.47 L385.50 247.45 L385.80 250.60 L386.10 252.51 L386.40 246.27 L386.70 248.08 L387.00 250.42 L387.30 246.71 L387.60 243.87 L387.90 246.16 L388.20 251.27 L388.50 251.78 L388.80 247.24 L389.10 251.01 L389.40 250.43 L389.70 252.94 L390.00 250.73 L390.30 247.29 L390.60 252.04 L390.90 249.49 L391.20 247.88 L391.50 249.91 L391.80 245.12" fill="none" stroke="#000" stroke-width="1.1" stroke-opacity="1.0" stroke-linejoin="round"/>
<path d="M391.50 249.91 L391.80 245.12 L392.10 248.52 L392.40 243.06 L392.70 248.17 L393.00 249.41 L393.30 244.77 L393.60 248.95 L393.90 245.69 L394.20 240.94 L394.50 240.28 L394.80 243.50 L395.10 239.55 L395.40 245.76 L395.70 239.97 L396.00 238.09 L396.30 244.23 L396.60 234.17 L396.90 232.65 L397.20 239.46 L397.50 242.45 L397.80 239.86 L398.10 237.13 L398.40 239.36 L398.70 229.71 L399.00 232.14 L399.30 235.70 L399.60 234.30 L399.90 234.43 L400.20 238.84 L400.50 235.09 L400.80 243.00 L401.10 229.08 L401.40 230.13 L401.70 230.91 L402.00 229.33 L402.30 224.50 L402.60 228.73 L402.90 229.06 L403.20 228.39 L403.50 227.58 L403.80 227.20 L404.10 226.82 L404.40 226.37 L404.70 225.23 L405.00 228.07 L405.30 221.84 L405.60 223.78 L405.90 221.68 L406.20 216.77 L406.50 219.45 L406.80 220.07 L407.10 211.80 L407.40 220.53 L407.70 216.01 L408.00 227.37 L408.30 217.56 L408.60 217.38 L408.90 222.17 L409.20 217.16 L409.50 218.74 L409.80 216.00 L410.10 212.83 L410.40 211.48 L410.70 220.18 L411.00 215.88 L411.30 210.46 L411.60 212.19 L411.90 202.24 L412.20 208.05 L412.50 213.93 L412.80 213.09 L413.10 217.43 L413.40 212.28 L413.70 216.29 L414.00 213.36 L414.30 207.10 L414.60 204.25 L414.90 207.93 L415.20 209.28 L415.50 206.02 L415.80 211.26 L416.10 203.95 L416.40 209.55 L416.70 209.66 L417.00 212.41 L417.30 211.91 L417.60 207.01 L417.90 204.85 L418.20 210.08 L418.50 207.96 L418.80 213.37 L419.10 222.30 L419.40 212.90 L419.70 220.16 L420.00 216.62 L420.30 212.88 L420.60 216.28 L420.90 218.43 L421.20 219.51 L421.50 218.31 L421.80 221.25 L422.10 216.77 L422.40 221.02 L422.70 216.47 L423.00 214.71 L423.30 224.14 L423.60 222.11 L423.90 219.70 L424.20 214.26 L424.50 220.13 L424.80 218.59 L425.10 219.85 L425.40 220.02 L425.70 217.59 L426.00 218.99 L426.30 228.49 L426.60 223.38 L426.90 219.12 L427.20 219.80 L427.50 223.79 L427.80 222.10 L428.10 223.10 L428.40 223.32 L428.70 228.17 L429.00 215.95 L429.30 222.55 L429.60 222.32 L429.90 218.60 L430.20 216.49 L430.50 220.80 L430.80 218.27 L431.10 223.39 L431.40 222.56 L431.70 218.40 L432.00 228.17 L432.30 226.20 L432.60 228.13 L432.90 221.60 L433.20 229.09 L433.50 227.48 L433.80 223.28 L434.10 217.36 L434.40 219.17 L434.70 225.70 L435.00 224.90 L435.30 221.86 L435.60 217.68 L435.90 225.45 L436.20 220.60 L436.50 228.93 L436.80 229.14" fill="none" stroke="#333" stroke-width="0.4" stroke-opacity="1.0" stroke-linejoin="round"/>
<path d="M297.00 247.46 L297.15 247.28 L297.30 247.42 L297.45 247.56 L297.60 247.53 L297.75 247.37 L297.90 247.18 L298.05 247.10 L298.20 247.05 L298.35 247.17 L298.50 247.17 L298.65 246.44 L298.80 247.65 L298.95 247.23 L299.10 246.94 L299.25 247.11 L299.40 247.86 L299.55 247.41 L299.70 247.04 L299.85 247.54 L300.00 247.31 L300.15 247.80 L300.30 246.85 L300.45 247.53 L300.60 247.08 L300.75 246.69 L300.90 246.65 L301.05 247.01 L301.20 247.22 L301.35 247.15 L301.50 247.14 L301.65 247.55 L301.80 247.90 L301.95 246.98 L302.10 245.91 L302.25 247.32 L302.40 246.31 L302.55 246.95 L302.70 247.00 L302.85 247.30 L303.00 247.06 L303.15 247.51 L303.30 247.67 L303.45 247.66 L303.60 247.39 L303.75 246.61 L303.90 246.96 L304.05 246.85 L304.20 246.95 L304.35 246.84 L304.50 247.45 L304.65 247.10 L304.80 246.90 L304.95 246.90 L305.10 246.58 L305.25 246.94 L305.40 247.13 L305.55 247.22 L305.70 246.86 L305.85 247.68 L306.00 246.84 L306.15 247.52 L306.30 247.37 L306.45 247.26 L306.60 248.46 L306.75 247.00 L306.90 247.45 L307.05 247.17 L307.20 248.26 L307.35 247.25 L307.50 246.58 L307.65 247.59 L307.80 248.18 L307.95 246.85 L308.10 246.24 L308.25 246.95 L308.40 246.84 L308.55 247.07 L308.70 246.46 L308.85 245.95 L309.00 245.68 L309.15 245.65 L309.30 246.07 L309.45 245.20 L309.60 246.12 L309.75 246.21 L309.90 245.38 L310.05 245.92 L310.20 245.87 L310.35 245.68 L310.50 246.47 L310.65 246.81 L310.80 246.44 L310.95 247.10 L311.10 246.88 L311.25 247.22 L311.40 247.17 L311.55 246.87 L311.70 247.11 L311.85 247.81 L312.00 247.85 L312.15 248.62 L312.30 248.18 L312.45 248.81 L312.60 248.90 L312.75 249.14 L312.90 249.02 L313.05 249.47 L313.20 249.94 L313.35 249.51 L313.50 249.79 L313.65 249.47 L313.80 249.78 L313.95 249.57 L314.10 249.60 L314.25 249.05 L314.40 249.04 L314.55 248.72 L314.70 248.89 L314.85 249.25 L315.00 249.18 L315.15 249.73 L315.30 249.43 L315.45 249.95 L315.60 249.40 L315.75 248.82 L315.90 248.87 L316.05 249.14 L316.20 248.00 L316.35 248.31 L316.50 250.25 L316.65 248.89 L316.80 248.82 L316.95 249.95 L317.10 249.00 L317.25 247.99 L317.40 248.97 L317.55 248.59 L317.70 248.92 L317.85 248.15 L318.00 248.47 L318.15 248.77 L318.30 247.82 L318.45 248.43 L318.60 248.62 L318.75 248.65 L318.90 248.89 L319.05 247.92 L319.20 249.14 L319.35 248.13 L319.50 248.36 L319.65 248.73 L319.80 248.00 L319.95 247.45 L320.10 247.91 L320.25 250.29 L320.40 248.07 L320.55 247.23 L320.70 248.04 L320.85 247.82 L321.00 248.03 L321.15 249.12 L321.30 246.96 L321.45 247.31 L321.60 247.58 L321.75 248.72 L321.90 246.59 L322.05 247.30 L322.20 247.27 L322.35 246.85 L322.50 246.06 L322.65 246.89 L322.80 246.23 L322.95 246.14 L323.10 247.20 L323.25 246.98 L323.40 246.62 L323.55 248.54 L323.70 246.99 L323.85 245.49 L324.00 246.24 L324.15 244.99 L324.30 246.59 L324.45 244.87 L324.60 245.64 L324.75 247.01 L324.90 244.70 L325.05 246.63 L325.20 244.95 L325.35 245.65 L325.50 244.10 L325.65 246.00 L325.80 245.73 L325.95 245.72 L326.10 245.88 L326.25 244.12 L326.40 245.09 L326.55 242.97 L326.70 245.80 L326.85 244.34 L327.00 243.06 L327.15 244.72 L327.30 245.68 L327.45 248.08 L327.60 243.23 L327.75 244.85 L327.90 243.37 L328.05 244.64 L328.20 245.24 L328.35 245.63 L328.50 244.96 L328.65 244.94 L328.80 246.91 L328.95 245.75 L329.10 245.75 L329.25 244.39 L329.40 242.19 L329.55 244.20 L329.70 243.29 L329.85 243.10 L330.00 245.01 L330.15 244.13 L330.30 242.78 L330.45 243.59 L330.60 243.07 L330.75 243.91 L330.90 241.75 L331.05 245.60 L331.20 243.66 L331.35 244.32 L331.50 243.53 L331.65 241.02 L331.80 246.11 L331.95 242.65 L332.10 244.12 L332.25 244.73 L332.40 244.06 L332.55 243.46 L332.70 245.14 L332.85 242.02 L333.00 245.14 L333.15 245.45 L333.30 243.64 L333.45 245.04 L333.60 246.57 L333.75 245.23 L333.90 243.47 L334.05 246.70 L334.20 239.90 L334.35 244.88 L334.50 244.16 L334.65 244.63 L334.80 243.33 L334.95 244.35 L335.10 244.85 L335.25 247.57 L335.40 247.46 L335.55 242.97 L335.70 245.30 L335.85 247.91 L336.00 244.79 L336.15 248.28 L336.30 252.03 L336.45 242.98 L336.60 244.05 L336.75 245.27 L336.90 246.61 L337.05 242.56 L337.20 248.28 L337.35 248.88 L337.50 248.86 L337.65 245.35 L337.80 250.69 L337.95 249.29 L338.10 248.59 L338.25 250.16 L338.40 245.82 L338.55 247.80 L338.70 248.77 L338.85 250.30 L339.00 248.23 L339.15 248.33 L339.30 249.65 L339.45 251.01 L339.60 244.55 L339.75 249.61 L339.90 245.01 L340.05 250.99 L340.20 248.65 L340.35 252.66 L340.50 246.27 L340.65 250.28 L340.80 247.18 L340.95 251.35 L341.10 251.10 L341.25 246.43 L341.40 249.01 L341.55 244.74 L341.70 247.86 L341.85 253.07 L342.00 250.74 L342.15 246.30 L342.30 248.57 L342.45 247.15 L342.60 249.72 L342.75 252.80 L342.90 249.50 L343.05 251.86 L343.20 247.36 L343.35 249.45 L343.50 247.95 L343.65 247.92 L343.80 246.29 L343.95 248.23 L344.10 251.80 L344.25 258.63 L344.40 244.72 L344.55 253.21 L344.70 253.88 L344.85 253.15 L345.00 254.11 L345.15 248.40 L345.30 259.02 L345.45 248.53 L345.60 250.53 L345.75 256.96 L345.90 251.35 L346.05 247.45 L346.20 253.16 L346.35 253.91 L346.50 255.59 L346.65 247.16 L346.80 248.86 L346.95 249.78 L347.10 258.21 L347.25 255.05 L347.40 256.69 L347.55 255.15 L347.70 254.53 L347.85 252.09 L348.00 248.36 L348.15 250.98 L348.30 255.25 L348.45 252.33 L348.60 256.28 L348.75 258.26 L348.90 257.50 L349.05 261.34 L349.20 256.63 L349.35 255.72 L349.50 248.58 L349.65 255.61 L349.80 256.50 L349.95 255.25 L350.10 257.57 L350.25 257.95 L350.40 258.41 L350.55 249.60 L350.70 256.91 L350.85 250.11 L351.00 256.28 L351.15 251.63 L351.30 255.31 L351.45 260.27 L351.60 258.93 L351.75 255.29 L351.90 254.49 L352.05 254.07 L352.20 256.24 L352.35 254.51 L352.50 258.30 L352.65 252.55 L352.80 255.81 L352.95 248.75 L353.10 262.18 L353.25 256.72 L353.40 254.53 L353.55 254.81 L353.70 248.71 L353.85 253.53 L354.00 257.15 L354.15 252.62 L354.30 256.26 L354.45 254.58 L354.60 254.50 L354.75 254.96 L354.90 261.55 L355.05 255.63 L355.20 261.80 L355.35 247.99 L355.50 250.21 L355.65 253.10 L355.80 247.53 L355.95 257.74 L356.10 255.82 L356.25 253.94 L356.40 259.29 L356.55 257.28 L356.70 258.09 L356.85 255.62 L357.00 245.78 L357.15 256.18 L357.30 253.52 L357.45 255.74 L357.60 257.02 L357.75 257.46 L357.90 251.02 L358.05 258.20 L358.20 251.51 L358.35 253.55 L358.50 253.62 L358.65 253.72 L358.80 263.31 L358.95 261.55 L359.10 255.38 L359.25 260.38 L359.40 261.10 L359.55 264.42 L359.70 257.66 L359.85 262.79 L360.00 257.93 L360.15 255.67 L360.30 259.19 L360.45 257.26 L360.60 273.18 L360.75 263.80 L360.90 253.23 L361.05 255.25 L361.20 256.26 L361.35 250.21 L361.50 260.70 L361.65 258.64 L361.80 261.72 L361.95 259.39 L362.10 259.27 L362.25 251.92 L362.40 261.59 L362.55 261.51 L362.70 261.13 L362.85 262.45 L363.00 253.36 L363.15 249.11 L363.30 269.14 L363.45 257.28 L363.60 261.25 L363.75 253.71 L363.90 258.46 L364.05 258.45 L364.20 251.48 L364.35 262.69 L364.50 253.19 L364.65 262.27 L364.80 260.53 L364.95 256.89 L365.10 260.16 L365.25 269.87 L365.40 267.57 L365.55 260.77 L365.70 256.50 L365.85 265.71 L366.00 254.99 L366.15 262.28 L366.30 262.71 L366.45 265.22 L366.60 264.92 L366.75 252.52 L366.90 258.20 L367.05 255.26 L367.20 262.31 L367.35 254.92 L367.50 263.94 L367.65 267.98 L367.80 263.93 L367.95 260.88 L368.10 259.40 L368.25 256.66 L368.40 258.30 L368.55 260.81 L368.70 263.45 L368.85 252.81 L369.00 262.25 L369.15 262.78 L369.30 268.56 L369.45 258.78 L369.60 259.77 L369.75 267.64 L369.90 262.74 L370.05 261.08 L370.20 263.65 L370.35 266.97 L370.50 271.91 L370.65 262.74 L370.80 268.60 L370.95 260.87 L371.10 261.77 L371.25 249.45 L371.40 257.96 L371.55 262.94 L371.70 263.49 L371.85 269.83 L372.00 264.78 L372.15 263.94 L372.30 257.25 L372.45 268.92 L372.60 263.22 L372.75 252.38 L372.90 271.20 L373.05 268.85 L373.20 250.79 L373.35 264.21 L373.50 261.51 L373.65 268.06 L373.80 261.30 L373.95 268.51 L374.10 257.14 L374.25 249.29 L374.40 283.92 L374.55 268.92 L374.70 257.66 L374.85 266.06 L375.00 259.11 L375.15 265.37 L375.30 259.93 L375.45 265.83 L375.60 274.02 L375.75 265.06 L375.90 262.75 L376.05 249.71 L376.20 264.18 L376.35 268.03 L376.50 265.94 L376.65 261.79 L376.80 254.41 L376.95 256.33 L377.10 261.83 L377.25 275.13 L377.40 263.41 L377.55 266.50 L377.70 272.90 L377.85 266.43 L378.00 271.84 L378.15 266.33 L378.30 268.73 L378.45 249.78 L378.60 269.26 L378.75 273.83 L378.90 265.43 L379.05 261.00 L379.20 259.48 L379.35 259.42 L379.50 273.55 L379.65 266.84 L379.80 260.27 L379.95 277.80 L380.10 258.01 L380.25 265.66 L380.40 269.45 L380.55 292.69 L380.70 266.96 L380.85 270.49 L381.00 243.42 L381.15 274.85 L381.30 272.51 L381.45 268.60 L381.60 261.00 L381.75 269.20 L381.90 253.91 L382.05 269.11 L382.20 266.69 L382.35 267.65 L382.50 261.09 L382.65 263.79 L382.80 248.95 L382.95 268.39 L383.10 255.77 L383.25 256.42 L383.40 268.75 L383.55 266.24 L383.70 272.52 L383.85 268.92 L384.00 268.46 L384.15 280.56 L384.30 253.00 L384.45 266.33 L384.60 269.70 L384.75 256.49 L384.90 264.85 L385.05 272.19 L385.20 265.42 L385.35 267.60 L385.50 289.27 L385.65 272.82 L385.80 274.14 L385.95 271.62 L386.10 270.93 L386.25 267.38 L386.40 262.43 L386.55 266.67 L386.70 267.46 L386.85 274.46 L387.00 272.50 L387.15 271.32 L387.30 276.28 L387.45 270.57 L387.60 270.81 L387.75 267.92 L387.90 269.53 L388.05 272.79 L388.20 276.60 L388.35 275.32 L388.50 276.99 L388.65 270.77 L388.80 281.50 L388.95 263.91 L389.10 265.39 L389.25 273.34 L389.40 284.76 L389.55 273.03 L389.70 268.14 L389.85 270.39 L390.00 276.15 L390.15 268.86 L390.30 272.08 L390.45 278.44 L390.60 265.54 L390.75 270.93 L390.90 262.56 L391.05 280.55 L391.20 270.07 L391.35 259.96 L391.50 273.53 L391.65 262.21 L391.80 276.71 L391.95 291.68 L392.10 269.45 L392.25 274.44 L392.40 280.71 L392.55 270.62 L392.70 267.23 L392.85 283.29 L393.00 284.75 L393.15 267.11 L393.30 268.91 L393.45 275.22 L393.60 269.32 L393.75 273.09 L393.90 260.57 L394.05 259.82 L394.20 261.68 L394.35 250.64 L394.50 276.81 L394.65 256.45 L394.80 283.38 L394.95 273.67 L395.10 262.15 L395.25 267.98 L395.40 261.84 L395.55 260.08 L395.70 261.63 L395.85 254.75 L396.00 279.68 L396.15 261.96 L396.30 261.42 L396.45 267.39 L396.60 271.32 L396.75 271.56 L396.90 272.87 L397.05 274.31 L397.20 270.03 L397.35 265.96 L397.50 269.67 L397.65 263.95 L397.80 261.24 L397.95 242.84 L398.10 259.90 L398.25 273.66 L398.40 253.77 L398.55 250.97 L398.70 262.58 L398.85 271.46 L399.00 266.35 L399.15 265.90 L399.30 281.08 L399.45 261.27 L399.60 266.62 L399.75 266.32 L399.90 260.39 L400.05 278.23 L400.20 258.30 L400.35 290.95 L400.50 258.25 L400.65 259.64 L400.80 253.30 L400.95 292.55 L401.10 251.74 L401.25 254.48 L401.40 267.75 L401.55 262.09 L401.70 276.45 L401.85 243.53 L402.00 243.72 L402.15 255.27 L402.30 265.95 L402.45 258.68 L402.60 275.57 L402.75 268.37 L402.90 270.86 L403.05 259.74 L403.20 261.60 L403.35 249.07 L403.50 264.20 L403.65 272.79 L403.80 257.36 L403.95 265.64 L404.10 249.24 L404.25 269.91 L404.40 258.81 L404.55 240.95 L404.70 255.09 L404.85 262.53 L405.00 256.75 L405.15 251.23 L405.30 261.10 L405.45 249.36 L405.60 255.82 L405.75 259.83 L405.90 257.41 L406.05 253.51 L406.20 253.26 L406.35 252.44 L406.50 257.87 L406.65 265.44 L406.80 258.96 L406.95 259.51 L407.10 255.24 L407.25 251.15 L407.40 247.22 L407.55 261.14 L407.70 259.16 L407.85 254.90 L408.00 261.28 L408.15 264.71 L408.30 256.36 L408.45 270.44 L408.60 265.17 L408.75 258.80 L408.90 263.08 L409.05 259.06 L409.20 264.39 L409.35 267.72 L409.50 276.61 L409.65 248.57 L409.80 232.68 L409.95 247.04 L410.10 261.06 L410.25 264.36 L410.40 253.10 L410.55 265.36 L410.70 251.01 L410.85 249.48 L411.00 250.67 L411.15 232.34 L411.30 266.33 L411.45 257.46 L411.60 251.65 L411.75 238.76 L411.90 268.86 L412.05 218.84 L412.20 247.01 L412.35 261.01 L412.50 245.40 L412.65 244.05 L412.80 254.40 L412.95 258.40 L413.10 265.31 L413.25 258.60 L413.40 260.28 L413.55 236.31 L413.70 245.65 L413.85 247.88 L414.00 248.15 L414.15 263.94 L414.30 255.41 L414.45 246.95 L414.60 236.69 L414.75 263.41 L414.90 250.79 L415.05 257.25 L415.20 232.99 L415.35 256.12 L415.50 249.45 L415.65 242.30 L415.80 247.41 L415.95 255.74 L416.10 263.15 L416.25 254.32 L416.40 249.63 L416.55 257.65 L416.70 246.21 L416.85 245.67 L417.00 253.48 L417.15 249.83 L417.30 251.97 L417.45 252.79 L417.60 263.02 L417.75 238.86 L417.90 257.10 L418.05 270.58 L418.20 261.84 L418.35 246.16 L418.50 255.19 L418.65 256.28 L418.80 231.54 L418.95 253.04 L419.10 252.62 L419.25 243.01 L419.40 231.40 L419.55 255.95 L419.70 256.11 L419.85 245.14 L420.00 233.65 L420.15 259.56 L420.30 263.66 L420.45 240.65 L420.60 239.92 L420.75 253.01 L420.90 241.79 L421.05 259.23 L421.20 254.05 L421.35 250.94 L421.50 232.77 L421.65 234.30 L421.80 246.18 L421.95 242.44 L422.10 281.41 L422.25 259.57 L422.40 254.55 L422.55 243.44 L422.70 258.81 L422.85 258.25 L423.00 241.54 L423.15 250.62 L423.30 239.00 L423.45 249.54 L423.60 228.78 L423.75 249.22 L423.90 236.51 L424.05 248.56 L424.20 227.20 L424.35 246.50 L424.50 257.49 L424.65 248.37 L424.80 235.22 L424.95 265.13 L425.10 259.94 L425.25 259.95 L425.40 252.09 L425.55 258.46 L425.70 254.88 L425.85 244.28 L426.00 251.27 L426.15 239.74 L426.30 260.80 L426.45 242.30 L426.60 246.03 L426.75 259.01 L426.90 252.37 L427.05 243.26 L427.20 268.01 L427.35 243.44 L427.50 237.24 L427.65 252.69 L427.80 247.63 L427.95 266.06 L428.10 236.48 L428.25 261.01 L428.40 256.32 L428.55 248.88 L428.70 235.80 L428.85 255.17 L429.00 253.96 L429.15 249.64 L429.30 237.79 L429.45 238.84 L429.60 269.91 L429.75 266.04 L429.90 253.49 L430.05 246.07 L430.20 246.99 L430.35 256.10 L430.50 243.44 L430.65 251.14 L430.80 248.29 L430.95 247.66 L431.10 267.30 L431.25 251.33 L431.40 253.02 L431.55 266.35 L431.70 248.99 L431.85 249.93 L432.00 247.53 L432.15 250.33 L432.30 234.77 L432.45 258.79 L432.60 258.42 L432.75 256.95 L432.90 252.20 L433.05 263.68 L433.20 235.92 L433.35 259.33 L433.50 255.99 L433.65 255.36 L433.80 267.63 L433.95 242.11 L434.10 251.38 L434.25 265.59 L434.40 273.35 L434.55 256.01 L434.70 273.48 L434.85 238.20 L435.00 247.26 L435.15 243.24 L435.30 243.56 L435.45 275.76 L435.60 263.32 L435.75 249.76 L435.90 258.29 L436.05 245.35 L436.20 258.18 L436.35 249.16 L436.50 251.36 L436.65 268.49 L436.80 245.33 L436.95 251.41" fill="none" stroke="#ff1a1a" stroke-width="0.3" stroke-opacity="1.0" stroke-linejoin="round"/>
<path d="M297.00 247.52 L297.30 247.10 L297.60 247.23 L297.90 247.37 L298.20 247.43 L298.50 247.23 L298.80 247.36 L299.10 247.54 L299.40 247.07 L299.70 247.08 L300.00 246.99 L300.30 246.90 L300.60 247.25 L300.90 247.07 L301.20 246.95 L301.50 247.52 L301.80 247.18 L302.10 247.40 L302.40 247.06 L302.70 247.36 L303.00 247.08 L303.30 246.97 L303.60 246.87 L303.90 247.26 L304.20 246.85 L304.50 247.20 L304.80 246.96 L305.10 247.08 L305.40 246.57 L305.70 247.16 L306.00 246.99 L306.30 246.86 L306.60 247.26 L306.90 246.98 L307.20 247.10 L307.50 247.04 L307.80 247.07 L308.10 247.03 L308.40 246.53 L308.70 246.78 L309.00 246.23 L309.30 246.07 L309.60 245.59 L309.90 245.54 L310.20 246.06 L310.50 246.35 L310.80 246.65 L311.10 246.93 L311.40 247.18 L311.70 247.43 L312.00 248.10 L312.30 248.30 L312.60 248.75 L312.90 249.14 L313.20 249.52 L313.50 248.80 L313.80 249.50 L314.10 249.30 L314.40 249.58 L314.70 249.16 L315.00 249.16 L315.30 248.80 L315.60 248.41 L315.90 248.77 L316.20 248.98 L316.50 248.87 L316.80 248.21 L317.10 248.30 L317.40 248.39 L317.70 248.36 L318.00 248.45 L318.30 248.04 L318.60 248.00 L318.90 247.49 L319.20 248.41 L319.50 248.22 L319.80 247.81 L320.10 247.86 L320.40 247.43 L320.70 247.82 L321.00 247.46 L321.30 247.47 L321.60 247.78 L321.90 247.47 L322.20 247.65 L322.50 246.78 L322.80 246.43 L323.10 246.30 L323.40 246.50 L323.70 246.81 L324.00 246.33 L324.30 247.08 L324.60 244.61 L324.90 245.63 L325.20 245.26 L325.50 245.00 L325.80 245.20 L326.10 245.40 L326.40 245.91 L326.70 244.34 L327.00 245.73 L327.30 244.15 L327.60 244.20 L327.90 243.40 L328.20 244.02 L328.50 244.38 L328.80 243.77 L329.10 243.68 L329.40 242.94 L329.70 243.90 L330.00 244.07 L330.30 244.12 L330.60 243.08 L330.90 242.03 L331.20 243.06 L331.50 243.85 L331.80 243.48 L332.10 243.04 L332.40 242.62 L332.70 242.85 L333.00 243.15 L333.30 243.72 L333.60 246.18 L333.90 245.21 L334.20 245.68 L334.50 246.95 L334.80 243.43 L335.10 245.05 L335.40 246.94 L335.70 245.90 L336.00 246.46 L336.30 245.99 L336.60 245.61 L336.90 247.56 L337.20 247.08 L337.50 247.79 L337.80 244.35 L338.10 247.58 L338.40 248.18 L338.70 246.73 L339.00 249.25 L339.30 248.20 L339.60 245.13 L339.90 247.83 L340.20 247.93 L340.50 247.62 L340.80 249.42 L341.10 249.72 L341.40 250.25 L341.70 246.01 L342.00 251.19 L342.30 248.86 L342.60 249.83 L342.90 250.64 L343.20 247.69 L343.50 250.02 L343.80 253.59 L344.10 251.90 L344.40 252.00 L344.70 249.39 L345.00 250.18 L345.30 250.61 L345.60 252.49 L345.90 247.92 L346.20 252.61 L346.50 251.99 L346.80 253.10 L347.10 249.93 L347.40 250.49 L347.70 251.67 L348.00 254.94 L348.30 254.44 L348.60 251.95 L348.90 254.97 L349.20 252.88 L349.50 250.13 L349.80 255.48 L350.10 252.43 L350.40 256.81 L350.70 252.66 L351.00 252.08 L351.30 252.62 L351.60 254.80 L351.90 252.52 L352.20 253.94 L352.50 254.12 L352.80 253.84 L353.10 256.85 L353.40 255.50 L353.70 252.66 L354.00 256.00 L354.30 256.68 L354.60 257.37 L354.90 255.08 L355.20 253.16 L355.50 254.38 L355.80 261.52 L356.10 260.74 L356.40 255.69 L356.70 259.32 L357.00 258.99 L357.30 257.55 L357.60 258.35 L357.90 257.46 L358.20 257.81 L358.50 255.82 L358.80 257.54 L359.10 255.28 L359.40 256.32 L359.70 258.38 L360.00 255.45 L360.30 258.48 L360.60 262.80 L360.90 260.68 L361.20 259.86 L361.50 257.17 L361.80 260.13 L362.10 257.79 L362.40 256.97 L362.70 260.95 L363.00 260.54 L363.30 260.34 L363.60 256.79 L363.90 261.21 L364.20 258.40 L364.50 259.34 L364.80 262.89 L365.10 259.54 L365.40 257.75 L365.70 261.44 L366.00 260.40 L366.30 260.98 L366.60 262.12 L366.90 255.16 L367.20 257.01 L367.50 262.57 L367.80 264.67 L368.10 264.85 L368.40 263.01 L368.70 264.22 L369.00 262.07 L369.30 262.75 L369.60 264.92 L369.90 261.62 L370.20 267.50 L370.50 262.17 L370.80 264.73 L371.10 264.05 L371.40 266.53 L371.70 260.38 L372.00 262.07 L372.30 264.58 L372.60 267.25 L372.90 266.92 L373.20 260.73 L373.50 260.34 L373.80 264.42 L374.10 262.92 L374.40 269.51 L374.70 265.56 L375.00 268.02 L375.30 262.04 L375.60 262.41 L375.90 262.08 L376.20 272.83 L376.50 267.39 L376.80 263.69 L377.10 271.03 L377.40 271.70 L377.70 269.36 L378.00 264.98 L378.30 265.73 L378.60 272.17 L378.90 268.27 L379.20 264.83 L379.50 267.39 L379.80 265.91 L380.10 266.24 L380.40 264.92 L380.70 269.67 L381.00 269.18 L381.30 267.71 L381.60 266.38 L381.90 263.58 L382.20 264.08 L382.50 273.37 L382.80 271.58 L383.10 264.49 L383.40 268.52 L383.70 268.61 L384.00 272.17 L384.30 273.32 L384.60 271.63 L384.90 271.06 L385.20 268.40 L385.50 276.74 L385.80 273.95 L386.10 271.97 L386.40 269.05 L386.70 278.27 L387.00 268.44 L387.30 266.61 L387.60 269.27 L387.90 272.42 L388.20 276.61 L388.50 269.99 L388.80 267.88 L389.10 278.15 L389.40 275.67 L389.70 271.79 L390.00 273.34 L390.30 270.94 L390.60 271.14 L390.90 270.92 L391.20 268.12 L391.50 272.76 L391.80 274.08" fill="none" stroke="#ff1a1a" stroke-width="1.1" stroke-opacity="1.0" stroke-linejoin="round"/>
<path d="M391.50 272.76 L391.80 274.08 L392.10 263.40 L392.40 274.79 L392.70 275.64 L393.00 269.29 L393.30 269.04 L393.60 265.78 L393.90 263.77 L394.20 272.04 L394.50 274.62 L394.80 266.51 L395.10 271.07 L395.40 278.98 L395.70 267.00 L396.00 254.52 L396.30 263.59 L396.60 266.08 L396.90 270.75 L397.20 259.13 L397.50 258.83 L397.80 264.44 L398.10 266.32 L398.40 263.00 L398.70 263.17 L399.00 270.81 L399.30 267.51 L399.60 267.31 L399.90 264.77 L400.20 264.52 L400.50 258.99 L400.80 255.34 L401.10 264.99 L401.40 263.91 L401.70 256.03 L402.00 256.84 L402.30 270.14 L402.60 264.41 L402.90 254.84 L403.20 263.55 L403.50 261.64 L403.80 252.26 L404.10 258.54 L404.40 260.87 L404.70 257.75 L405.00 255.76 L405.30 259.81 L405.60 256.71 L405.90 253.08 L406.20 259.87 L406.50 250.53 L406.80 259.94 L407.10 263.50 L407.40 256.58 L407.70 260.02 L408.00 249.71 L408.30 245.07 L408.60 246.12 L408.90 251.28 L409.20 255.28 L409.50 251.89 L409.80 247.79 L410.10 248.44 L410.40 261.04 L410.70 258.39 L411.00 241.07 L411.30 257.09 L411.60 249.12 L411.90 258.49 L412.20 255.52 L412.50 255.64 L412.80 251.50 L413.10 261.08 L413.40 251.68 L413.70 254.71 L414.00 249.85 L414.30 250.56 L414.60 247.21 L414.90 244.18 L415.20 258.35 L415.50 261.82 L415.80 241.37 L416.10 243.93 L416.40 242.19 L416.70 250.36 L417.00 247.70 L417.30 240.56 L417.60 244.84 L417.90 242.66 L418.20 233.33 L418.50 256.57 L418.80 240.60 L419.10 253.40 L419.40 247.12 L419.70 253.22 L420.00 246.09 L420.30 254.40 L420.60 254.46 L420.90 249.40 L421.20 250.03 L421.50 249.21 L421.80 247.24 L422.10 257.98 L422.40 261.15 L422.70 246.87 L423.00 247.03 L423.30 253.34 L423.60 250.50 L423.90 241.77 L424.20 254.43 L424.50 248.88 L424.80 255.24 L425.10 243.38 L425.40 254.44 L425.70 252.85 L426.00 260.01 L426.30 244.32 L426.60 243.76 L426.90 252.89 L427.20 245.87 L427.50 241.30 L427.80 241.26 L428.10 247.50 L428.40 254.82 L428.70 251.98 L429.00 248.05 L429.30 252.45 L429.60 248.07 L429.90 257.32 L430.20 262.55 L430.50 245.00 L430.80 248.97 L431.10 251.53 L431.40 251.00 L431.70 248.13 L432.00 257.36 L432.30 248.53 L432.60 251.14 L432.90 249.54 L433.20 244.77 L433.50 251.15 L433.80 259.19 L434.10 253.10 L434.40 249.74 L434.70 248.19 L435.00 257.46 L435.30 256.18 L435.60 250.35 L435.90 251.81 L436.20 250.62 L436.50 255.43 L436.80 247.07" fill="none" stroke="#ff1a1a" stroke-width="0.5" stroke-opacity="1.0" stroke-linejoin="round"/>
<line x1="276.60" y1="295.60" x2="438.90" y2="295.60" stroke="#b0b0b0" stroke-width="1.25" stroke-opacity="1.0"/>
<line x1="276.60" y1="183.30" x2="276.60" y2="295.60" stroke="#b0b0b0" stroke-width="1.25" stroke-opacity="1.0"/>
<line x1="276.60" y1="183.30" x2="438.90" y2="183.30" stroke="#dc7c7c" stroke-width="1.25" stroke-opacity="1.0"/>
<line x1="438.90" y1="183.30" x2="438.90" y2="295.60" stroke="#dc7c7c" stroke-width="1.25" stroke-opacity="1.0"/>
<line x1="292.83" y1="295.60" x2="292.83" y2="293.80" stroke="#8c8c8c" stroke-width="0.75" stroke-opacity="1.0"/>
<line x1="309.06" y1="295.60" x2="309.06" y2="292.80" stroke="#8c8c8c" stroke-width="0.75" stroke-opacity="1.0"/>
<line x1="325.29" y1="295.60" x2="325.29" y2="293.80" stroke="#8c8c8c" stroke-width="0.75" stroke-opacity="1.0"/>
<line x1="341.52" y1="295.60" x2="341.52" y2="292.80" stroke="#8c8c8c" stroke-width="0.75" stroke-opacity="1.0"/>
<line x1="357.75" y1="295.60" x2="357.75" y2="293.80" stroke="#8c8c8c" stroke-width="0.75" stroke-opacity="1.0"/>
<line x1="373.98" y1="295.60" x2="373.98" y2="292.80" stroke="#8c8c8c" stroke-width="0.75" stroke-opacity="1.0"/>
<line x1="390.21" y1="295.60" x2="390.21" y2="293.80" stroke="#8c8c8c" stroke-width="0.75" stroke-opacity="1.0"/>
<line x1="406.44" y1="295.60" x2="406.44" y2="292.80" stroke="#8c8c8c" stroke-width="0.75" stroke-opacity="1.0"/>
<line x1="422.67" y1="295.60" x2="422.67" y2="293.80" stroke="#8c8c8c" stroke-width="0.75" stroke-opacity="1.0"/>
<line x1="292.83" y1="183.30" x2="292.83" y2="185.10" stroke="#d84848" stroke-width="0.75" stroke-opacity="1.0"/>
<line x1="309.06" y1="183.30" x2="309.06" y2="186.10" stroke="#d84848" stroke-width="0.75" stroke-opacity="1.0"/>
<line x1="325.29" y1="183.30" x2="325.29" y2="185.10" stroke="#d84848" stroke-width="0.75" stroke-opacity="1.0"/>
<line x1="341.52" y1="183.30" x2="341.52" y2="186.10" stroke="#d84848" stroke-width="0.75" stroke-opacity="1.0"/>
<line x1="357.75" y1="183.30" x2="357.75" y2="185.10" stroke="#d84848" stroke-width="0.75" stroke-opacity="1.0"/>
<line x1="373.98" y1="183.30" x2="373.98" y2="186.10" stroke="#d84848" stroke-width="0.75" stroke-opacity="1.0"/>
<line x1="390.21" y1="183.30" x2="390.21" y2="185.10" stroke="#d84848" stroke-width="0.75" stroke-opacity="1.0"/>
<line x1="406.44" y1="183.30" x2="406.44" y2="186.10" stroke="#d84848" stroke-width="0.75" stroke-opacity="1.0"/>
<line x1="422.67" y1="183.30" x2="422.67" y2="185.10" stroke="#d84848" stroke-width="0.75" stroke-opacity="1.0"/>
<line x1="276.60" y1="198.80" x2="279.40" y2="198.80" stroke="#8c8c8c" stroke-width="0.75" stroke-opacity="1.0"/>
<line x1="276.60" y1="231.20" x2="279.40" y2="231.20" stroke="#8c8c8c" stroke-width="0.75" stroke-opacity="1.0"/>
<line x1="276.60" y1="263.60" x2="279.40" y2="263.60" stroke="#8c8c8c" stroke-width="0.75" stroke-opacity="1.0"/>
<line x1="276.60" y1="215.00" x2="278.40" y2="215.00" stroke="#8c8c8c" stroke-width="0.75" stroke-opacity="1.0"/>
<line x1="276.60" y1="247.40" x2="278.40" y2="247.40" stroke="#8c8c8c" stroke-width="0.75" stroke-opacity="1.0"/>
<line x1="276.60" y1="279.80" x2="278.40" y2="279.80" stroke="#8c8c8c" stroke-width="0.75" stroke-opacity="1.0"/>
<line x1="438.90" y1="199.30" x2="436.10" y2="199.30" stroke="#d84848" stroke-width="0.75" stroke-opacity="1.0"/>
<line x1="438.90" y1="223.30" x2="436.10" y2="223.30" stroke="#d84848" stroke-width="0.75" stroke-opacity="1.0"/>
<line x1="438.90" y1="247.30" x2="436.10" y2="247.30" stroke="#d84848" stroke-width="0.75" stroke-opacity="1.0"/>
<line x1="438.90" y1="271.30" x2="436.10" y2="271.30" stroke="#d84848" stroke-width="0.75" stroke-opacity="1.0"/>
<line x1="438.90" y1="211.30" x2="437.10" y2="211.30" stroke="#d84848" stroke-width="0.75" stroke-opacity="1.0"/>
<line x1="438.90" y1="235.30" x2="437.10" y2="235.30" stroke="#d84848" stroke-width="0.75" stroke-opacity="1.0"/>
<line x1="438.90" y1="259.30" x2="437.10" y2="259.30" stroke="#d84848" stroke-width="0.75" stroke-opacity="1.0"/>
<line x1="438.90" y1="283.30" x2="437.10" y2="283.30" stroke="#d84848" stroke-width="0.75" stroke-opacity="1.0"/>
<text x="276.60" y="305.00" text-anchor="middle" fill="#000" stroke="#000" stroke-width="0.18" font-size="8.2">0,0</text>
<text x="276.60" y="179.00" text-anchor="middle" fill="#ff1a1a" stroke="#ff1a1a" stroke-width="0.18" font-size="8.2">0,0</text>
<text x="309.06" y="305.00" text-anchor="middle" fill="#000" stroke="#000" stroke-width="0.18" font-size="8.2">0,2</text>
<text x="309.06" y="179.00" text-anchor="middle" fill="#ff1a1a" stroke="#ff1a1a" stroke-width="0.18" font-size="8.2">-0,2</text>
<text x="341.52" y="305.00" text-anchor="middle" fill="#000" stroke="#000" stroke-width="0.18" font-size="8.2">0,4</text>
<text x="341.52" y="179.00" text-anchor="middle" fill="#ff1a1a" stroke="#ff1a1a" stroke-width="0.18" font-size="8.2">-0,4</text>
<text x="373.98" y="305.00" text-anchor="middle" fill="#000" stroke="#000" stroke-width="0.18" font-size="8.2">0,6</text>
<text x="373.98" y="179.00" text-anchor="middle" fill="#ff1a1a" stroke="#ff1a1a" stroke-width="0.18" font-size="8.2">-0,6</text>
<text x="406.44" y="305.00" text-anchor="middle" fill="#000" stroke="#000" stroke-width="0.18" font-size="8.2">0,8</text>
<text x="406.44" y="179.00" text-anchor="middle" fill="#ff1a1a" stroke="#ff1a1a" stroke-width="0.18" font-size="8.2">-0,8</text>
<text x="438.90" y="305.00" text-anchor="middle" fill="#000" stroke="#000" stroke-width="0.18" font-size="8.2">1,0</text>
<text x="438.90" y="179.00" text-anchor="middle" fill="#ff1a1a" stroke="#ff1a1a" stroke-width="0.18" font-size="8.2">-1,0</text>
<text x="274.30" y="201.70" text-anchor="end" fill="#000" stroke="#000" stroke-width="0.18" font-size="8.2">0,4</text>
<text x="274.30" y="234.10" text-anchor="end" fill="#000" stroke="#000" stroke-width="0.18" font-size="8.2">0,0</text>
<text x="274.30" y="266.50" text-anchor="end" fill="#000" stroke="#000" stroke-width="0.18" font-size="8.2">-0,4</text>
<text x="274.30" y="298.90" text-anchor="end" fill="#000" stroke="#000" stroke-width="0.18" font-size="8.2">-0,8</text>
<text x="441.50" y="202.20" text-anchor="start" fill="#ff1a1a" stroke="#ff1a1a" stroke-width="0.18" font-size="8.2">0,6</text>
<text x="441.50" y="226.20" text-anchor="start" fill="#ff1a1a" stroke="#ff1a1a" stroke-width="0.18" font-size="8.2">0,3</text>
<text x="441.50" y="250.20" text-anchor="start" fill="#ff1a1a" stroke="#ff1a1a" stroke-width="0.18" font-size="8.2">0,0</text>
<text x="441.50" y="274.20" text-anchor="start" fill="#ff1a1a" stroke="#ff1a1a" stroke-width="0.18" font-size="8.2">-0,3</text>
<text x="441.50" y="298.20" text-anchor="start" fill="#ff1a1a" stroke="#ff1a1a" stroke-width="0.18" font-size="8.2">-0,6</text>
<text x="358.40" y="318.70" text-anchor="middle" fill="#000" stroke="#000" stroke-width="0.18" font-size="8.2">1/B [1/T]</text>
<text x="251.00" y="242.60" text-anchor="middle" fill="#000" stroke="#000" stroke-width="0.18" font-size="8.6" transform="rotate(-90 251.0 242.6)">dG [G<tspan font-size="5.5" dy="2.3">0</tspan><tspan dy="-2.3">]</tspan></text>
<text x="467.40" y="245.90" text-anchor="middle" fill="#ff1a1a" stroke="#ff1a1a" stroke-width="0.18" font-size="8.6" transform="rotate(-90 467.4 245.9)">dG [G<tspan font-size="5.5" dy="2.3">0</tspan><tspan dy="-2.3">]</tspan></text>
<line x1="335.30" y1="192.50" x2="354.00" y2="192.50" stroke="#b0b0b0" stroke-width="0.6" stroke-opacity="1.0"/>
<text x="357.00" y="195.50" text-anchor="start" fill="#000" stroke="#000" stroke-width="0.18" font-size="8.2">positive Field</text>
<line x1="335.30" y1="202.50" x2="354.00" y2="202.50" stroke="#ffa0a0" stroke-width="0.6" stroke-opacity="1.0"/>
<text x="357.00" y="205.80" text-anchor="start" fill="#000" stroke="#000" stroke-width="0.18" font-size="8.2">negative Field</text>
<text x="287.50" y="283.90" text-anchor="start" fill="#000" stroke="#000" stroke-width="0.18" font-size="8.2">T = 120mK</text>
</svg></body></html>
